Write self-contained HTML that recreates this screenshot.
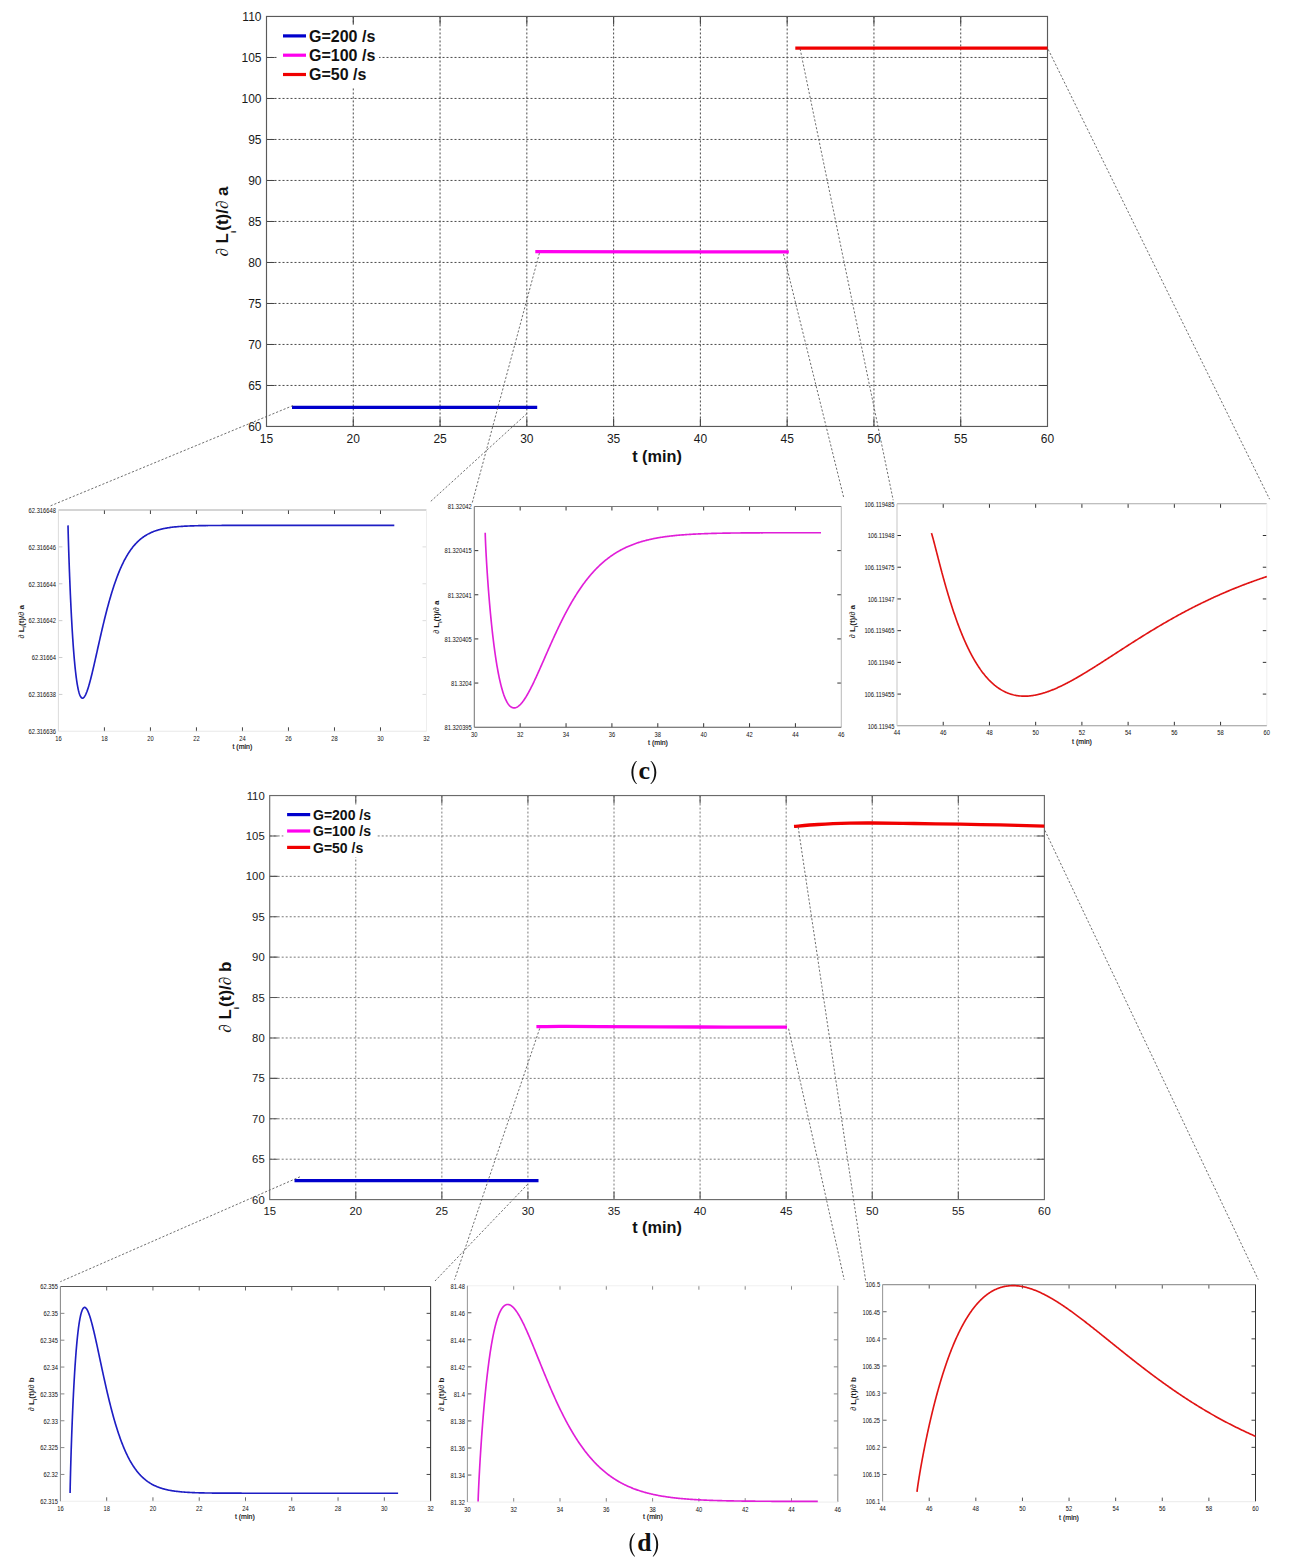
<!DOCTYPE html>
<html><head><meta charset="utf-8"><title>Figure</title>
<style>
html,body{margin:0;padding:0;background:#fff;}
body{width:1294px;height:1564px;overflow:hidden;}
svg{display:block;font-family:"Liberation Sans", sans-serif;}
</style></head>
<body>
<svg width="1294" height="1564" viewBox="0 0 1294 1564">
<rect width="1294" height="1564" fill="#fff"/>
<path d="M353.28,16.45 V426.45 M440.06,16.45 V426.45 M526.83,16.45 V426.45 M613.61,16.45 V426.45 M700.39,16.45 V426.45 M787.17,16.45 V426.45 M873.94,16.45 V426.45 M960.72,16.45 V426.45 M266.5,57.45 H1047.5 M266.5,98.45 H1047.5 M266.5,139.45 H1047.5 M266.5,180.45 H1047.5 M266.5,221.45 H1047.5 M266.5,262.45 H1047.5 M266.5,303.45 H1047.5 M266.5,344.45 H1047.5 M266.5,385.45 H1047.5" stroke="#4a4a4a" stroke-width="1" stroke-dasharray="2 2" fill="none"/>
<rect x="278" y="24.5" width="101" height="62.5" fill="#fff"/>
<path d="M353.28,426.45 v-8 M353.28,16.45 v8 M440.06,426.45 v-8 M440.06,16.45 v8 M526.83,426.45 v-8 M526.83,16.45 v8 M613.61,426.45 v-8 M613.61,16.45 v8 M700.39,426.45 v-8 M700.39,16.45 v8 M787.17,426.45 v-8 M787.17,16.45 v8 M873.94,426.45 v-8 M873.94,16.45 v8 M960.72,426.45 v-8 M960.72,16.45 v8 M266.5,57.45 h8 M1047.5,57.45 h-8 M266.5,98.45 h8 M1047.5,98.45 h-8 M266.5,139.45 h8 M1047.5,139.45 h-8 M266.5,180.45 h8 M1047.5,180.45 h-8 M266.5,221.45 h8 M1047.5,221.45 h-8 M266.5,262.45 h8 M1047.5,262.45 h-8 M266.5,303.45 h8 M1047.5,303.45 h-8 M266.5,344.45 h8 M1047.5,344.45 h-8 M266.5,385.45 h8 M1047.5,385.45 h-8" stroke="#444" stroke-width="1.1" fill="none"/>
<rect x="266.5" y="16.45" width="781" height="410" fill="none" stroke="#5a5a5a" stroke-width="1.15"/>
<text x="261.5" y="20.77" font-size="12" text-anchor="end" fill="#1a1a1a">110</text>
<text x="261.5" y="61.77" font-size="12" text-anchor="end" fill="#1a1a1a">105</text>
<text x="261.5" y="102.77" font-size="12" text-anchor="end" fill="#1a1a1a">100</text>
<text x="261.5" y="143.77" font-size="12" text-anchor="end" fill="#1a1a1a">95</text>
<text x="261.5" y="184.77" font-size="12" text-anchor="end" fill="#1a1a1a">90</text>
<text x="261.5" y="225.77" font-size="12" text-anchor="end" fill="#1a1a1a">85</text>
<text x="261.5" y="266.77" font-size="12" text-anchor="end" fill="#1a1a1a">80</text>
<text x="261.5" y="307.77" font-size="12" text-anchor="end" fill="#1a1a1a">75</text>
<text x="261.5" y="348.77" font-size="12" text-anchor="end" fill="#1a1a1a">70</text>
<text x="261.5" y="389.77" font-size="12" text-anchor="end" fill="#1a1a1a">65</text>
<text x="261.5" y="430.77" font-size="12" text-anchor="end" fill="#1a1a1a">60</text>
<text x="266.5" y="443.05" font-size="12" text-anchor="middle" fill="#1a1a1a">15</text>
<text x="353.28" y="443.05" font-size="12" text-anchor="middle" fill="#1a1a1a">20</text>
<text x="440.06" y="443.05" font-size="12" text-anchor="middle" fill="#1a1a1a">25</text>
<text x="526.83" y="443.05" font-size="12" text-anchor="middle" fill="#1a1a1a">30</text>
<text x="613.61" y="443.05" font-size="12" text-anchor="middle" fill="#1a1a1a">35</text>
<text x="700.39" y="443.05" font-size="12" text-anchor="middle" fill="#1a1a1a">40</text>
<text x="787.17" y="443.05" font-size="12" text-anchor="middle" fill="#1a1a1a">45</text>
<text x="873.94" y="443.05" font-size="12" text-anchor="middle" fill="#1a1a1a">50</text>
<text x="960.72" y="443.05" font-size="12" text-anchor="middle" fill="#1a1a1a">55</text>
<text x="1047.5" y="443.05" font-size="12" text-anchor="middle" fill="#1a1a1a">60</text>
<text x="657" y="461.5" font-size="16.3" font-weight="bold" text-anchor="middle" fill="#111">t (min)</text>
<text transform="translate(228.2,221.5) rotate(-90)" font-size="17" font-weight="bold" text-anchor="middle" fill="#111"><tspan font-weight="normal" font-style="italic" font-family="Liberation Serif, serif">&#8706;</tspan> L<tspan font-size="8" dy="7.5">i</tspan><tspan dy="-7.5">(t)/</tspan><tspan font-weight="normal" font-style="italic" font-family="Liberation Serif, serif">&#8706;</tspan> a</text>
<line x1="283" y1="35.9" x2="306" y2="35.9" stroke="#0000cc" stroke-width="3.2"/>
<text x="309" y="41.7" font-size="16" font-weight="bold" fill="#111">G=200 /s</text>
<line x1="283" y1="55.2" x2="306" y2="55.2" stroke="#ff00ee" stroke-width="3.2"/>
<text x="309" y="61" font-size="16" font-weight="bold" fill="#111">G=100 /s</text>
<line x1="283" y1="74.5" x2="306" y2="74.5" stroke="#f00000" stroke-width="3.2"/>
<text x="309" y="80.3" font-size="16" font-weight="bold" fill="#111">G=50 /s</text>
<path d="M292,407.4 C332.87,407.4 496.33,407.4 537.2,407.4" stroke="#0000cc" stroke-width="3.3" fill="none" stroke-linecap="butt"/>
<path d="M535.3,251.7 C577.55,251.73 746.55,251.87 788.8,251.9" stroke="#ff00ee" stroke-width="3.3" fill="none" stroke-linecap="butt"/>
<path d="M795.3,48.2 C837.33,48.2 1005.47,48.2 1047.5,48.2" stroke="#f00000" stroke-width="3.3" fill="none" stroke-linecap="butt"/>
<path d="M292.9,405.6 L50.6,505.8 M527,413.5 L430.6,501.5 M539.4,253.2 L472.3,502.5 M783.5,254.1 L844,498.7 M800.1,48.8 L893.2,500.2 M1048.2,49.4 L1269.6,499.2" stroke="#555" stroke-width="0.85" stroke-dasharray="2.2 1.8" fill="none"/>
<path d="M104.41,510 v4 M104.41,731.3 v-4" stroke="#444" stroke-width="1" fill="none"/>
<path d="M150.43,510 v4 M150.43,731.3 v-4" stroke="#444" stroke-width="1" fill="none"/>
<path d="M196.44,510 v4 M196.44,731.3 v-4" stroke="#444" stroke-width="1" fill="none"/>
<path d="M242.45,510 v4 M242.45,731.3 v-4" stroke="#444" stroke-width="1" fill="none"/>
<path d="M288.46,510 v4 M288.46,731.3 v-4" stroke="#444" stroke-width="1" fill="none"/>
<path d="M334.48,510 v4 M334.48,731.3 v-4" stroke="#444" stroke-width="1" fill="none"/>
<path d="M380.49,510 v4 M380.49,731.3 v-4" stroke="#444" stroke-width="1" fill="none"/>
<path d="M58.4,546.88 h4" stroke="#ccc" stroke-width="1"/>
<path d="M426.5,546.88 h-4" stroke="#ddd" stroke-width="1"/>
<path d="M58.4,583.77 h4" stroke="#ccc" stroke-width="1"/>
<path d="M426.5,583.77 h-4" stroke="#ddd" stroke-width="1"/>
<path d="M58.4,620.65 h4" stroke="#ccc" stroke-width="1"/>
<path d="M426.5,620.65 h-4" stroke="#ddd" stroke-width="1"/>
<path d="M58.4,657.53 h4" stroke="#ccc" stroke-width="1"/>
<path d="M426.5,657.53 h-4" stroke="#ddd" stroke-width="1"/>
<path d="M58.4,694.42 h4" stroke="#ccc" stroke-width="1"/>
<path d="M426.5,694.42 h-4" stroke="#ddd" stroke-width="1"/>
<line x1="58.4" y1="510" x2="426.5" y2="510" stroke="#aaa" stroke-width="1.05"/>
<line x1="426.5" y1="510" x2="426.5" y2="731.3" stroke="#eee" stroke-width="1.05"/>
<line x1="58.4" y1="731.3" x2="426.5" y2="731.3" stroke="#e8e8e8" stroke-width="1.05"/>
<line x1="58.4" y1="510" x2="58.4" y2="731.3" stroke="#ddd" stroke-width="1.05"/>
<text transform="translate(55.9,512.8) scale(0.89,1)" font-size="6.5" text-anchor="end" fill="#111">62.316648</text>
<text transform="translate(55.9,549.68) scale(0.89,1)" font-size="6.5" text-anchor="end" fill="#111">62.316646</text>
<text transform="translate(55.9,586.57) scale(0.89,1)" font-size="6.5" text-anchor="end" fill="#111">62.316644</text>
<text transform="translate(55.9,623.45) scale(0.89,1)" font-size="6.5" text-anchor="end" fill="#111">62.316642</text>
<text transform="translate(55.9,660.33) scale(0.89,1)" font-size="6.5" text-anchor="end" fill="#111">62.31664</text>
<text transform="translate(55.9,697.22) scale(0.89,1)" font-size="6.5" text-anchor="end" fill="#111">62.316638</text>
<text transform="translate(55.9,734.1) scale(0.89,1)" font-size="6.5" text-anchor="end" fill="#111">62.316636</text>
<text transform="translate(58.4,740.7) scale(0.89,1)" font-size="6.5" text-anchor="middle" fill="#111">16</text>
<text transform="translate(104.41,740.7) scale(0.89,1)" font-size="6.5" text-anchor="middle" fill="#111">18</text>
<text transform="translate(150.43,740.7) scale(0.89,1)" font-size="6.5" text-anchor="middle" fill="#111">20</text>
<text transform="translate(196.44,740.7) scale(0.89,1)" font-size="6.5" text-anchor="middle" fill="#111">22</text>
<text transform="translate(242.45,740.7) scale(0.89,1)" font-size="6.5" text-anchor="middle" fill="#111">24</text>
<text transform="translate(288.46,740.7) scale(0.89,1)" font-size="6.5" text-anchor="middle" fill="#111">26</text>
<text transform="translate(334.48,740.7) scale(0.89,1)" font-size="6.5" text-anchor="middle" fill="#111">28</text>
<text transform="translate(380.49,740.7) scale(0.89,1)" font-size="6.5" text-anchor="middle" fill="#111">30</text>
<text transform="translate(426.5,740.7) scale(0.89,1)" font-size="6.5" text-anchor="middle" fill="#111">32</text>
<text x="242.4" y="749" font-size="7" text-anchor="middle" fill="#111" stroke="#111" stroke-width="0.18">t (min)</text>
<text transform="translate(23.6,621.8) rotate(-90)" font-size="8" font-weight="bold" text-anchor="middle" fill="#1a1a1a"><tspan font-weight="normal" font-style="italic">&#8706;</tspan> L<tspan font-size="5" dy="2.5">i</tspan><tspan dy="-2.5">(t)/</tspan><tspan font-weight="normal" font-style="italic">&#8706;</tspan> a</text>
<path d="M68,525.38 L68.02,526.16 L68.04,527.03 L68.07,528.09 L68.08,528.68 L68.1,529.31 L68.11,529.99 L68.13,530.7 L68.15,531.45 L68.17,532.25 L68.19,533.08 L68.22,533.95 L68.24,534.85 L68.27,535.8 L68.29,536.77 L68.32,537.79 L68.35,538.83 L68.38,539.91 L68.42,541.02 L68.45,542.17 L68.49,543.34 L68.52,544.55 L68.56,545.79 L68.6,547.05 L68.64,548.34 L68.68,549.67 L68.73,551.02 L68.77,552.39 L68.82,553.79 L68.87,555.22 L68.91,556.67 L68.96,558.14 L69.02,559.64 L69.07,561.16 L69.12,562.7 L69.18,564.26 L69.23,565.84 L69.29,567.44 L69.35,569.05 L69.41,570.69 L69.48,572.34 L69.54,574.01 L69.6,575.69 L69.67,577.39 L69.74,579.1 L69.81,580.82 L69.88,582.56 L69.95,584.31 L70.02,586.06 L70.09,587.83 L70.17,589.61 L70.25,591.39 L70.32,593.18 L70.4,594.98 L70.48,596.78 L70.57,598.59 L70.65,600.4 L70.74,602.22 L70.82,604.04 L70.91,605.86 L71,607.68 L71.09,609.5 L71.18,611.32 L71.27,613.13 L71.37,614.95 L71.46,616.76 L71.56,618.57 L71.66,620.37 L71.76,622.17 L71.86,623.96 L71.96,625.75 L72.06,627.52 L72.17,629.29 L72.27,631.05 L72.38,632.8 L72.49,634.54 L72.6,636.26 L72.71,637.98 L72.83,639.68 L72.94,641.37 L73.05,643.04 L73.17,644.7 L73.29,646.34 L73.41,647.97 L73.53,649.58 L73.65,651.17 L73.78,652.74 L73.9,654.3 L74.03,655.83 L74.15,657.35 L74.28,658.84 L74.41,660.31 L74.55,661.76 L74.68,663.19 L74.81,664.6 L74.95,665.98 L75.08,667.34 L75.22,668.67 L75.36,669.98 L75.5,671.26 L75.65,672.52 L75.79,673.75 L75.93,674.96 L76.08,676.13 L76.23,677.28 L76.38,678.4 L76.53,679.5 L76.68,680.56 L76.83,681.6 L76.99,682.6 L77.14,683.58 L77.3,684.52 L77.46,685.44 L77.62,686.33 L77.78,687.18 L77.94,688.01 L78.1,688.8 L78.27,689.56 L78.43,690.29 L78.6,690.99 L78.77,691.65 L78.94,692.29 L79.11,692.89 L79.29,693.46 L79.46,694 L79.64,694.5 L79.81,694.97 L79.99,695.41 L80.35,696.2 L80.72,696.85 L81.09,697.37 L81.47,697.77 L81.85,698.03 L82.43,698.19 L83.03,698.07 L83.43,697.83 L83.84,697.47 L84.25,696.99 L84.67,696.39 L85.1,695.68 L85.31,695.28 L85.53,694.85 L85.74,694.4 L85.96,693.92 L86.18,693.41 L86.4,692.87 L86.62,692.31 L86.85,691.73 L87.07,691.11 L87.3,690.48 L87.53,689.82 L87.76,689.13 L87.99,688.42 L88.22,687.69 L88.45,686.94 L88.69,686.16 L88.92,685.36 L89.16,684.54 L89.4,683.7 L89.64,682.83 L89.88,681.95 L90.12,681.05 L90.36,680.13 L90.61,679.19 L90.86,678.23 L91.1,677.26 L91.35,676.26 L91.6,675.25 L91.86,674.23 L92.11,673.19 L92.36,672.13 L92.62,671.06 L92.88,669.97 L93.13,668.87 L93.39,667.76 L93.66,666.63 L93.92,665.49 L94.18,664.34 L94.45,663.18 L94.71,662.01 L94.98,660.83 L95.25,659.64 L95.52,658.44 L95.79,657.23 L96.07,656.01 L96.34,654.78 L96.62,653.55 L96.89,652.31 L97.17,651.06 L97.45,649.8 L97.73,648.55 L98.01,647.28 L98.3,646.01 L98.58,644.74 L98.87,643.46 L99.16,642.18 L99.45,640.9 L99.74,639.61 L100.03,638.33 L100.32,637.04 L100.62,635.75 L100.91,634.46 L101.21,633.17 L101.51,631.88 L101.81,630.58 L102.11,629.3 L102.41,628.01 L102.72,626.72 L103.02,625.43 L103.33,624.15 L103.64,622.87 L103.95,621.59 L104.26,620.32 L104.57,619.05 L104.88,617.78 L105.2,616.52 L105.51,615.26 L105.83,614.01 L106.15,612.76 L106.47,611.52 L106.79,610.29 L107.11,609.06 L107.43,607.83 L107.76,606.62 L108.09,605.41 L108.41,604.2 L108.74,603.01 L109.07,601.82 L109.41,600.64 L109.74,599.47 L110.07,598.3 L110.41,597.15 L110.75,596 L111.09,594.86 L111.43,593.73 L111.77,592.61 L112.11,591.5 L112.45,590.4 L112.8,589.3 L113.14,588.22 L113.49,587.15 L113.84,586.09 L114.19,585.03 L114.54,583.99 L114.9,582.96 L115.25,581.94 L115.61,580.93 L115.97,579.93 L116.32,578.94 L116.68,577.96 L117.05,576.99 L117.41,576.04 L117.77,575.09 L118.14,574.16 L118.5,573.23 L118.87,572.32 L119.24,571.42 L119.61,570.53 L119.98,569.65 L120.36,568.78 L120.73,567.93 L121.11,567.08 L121.49,566.25 L121.86,565.43 L122.24,564.61 L122.63,563.81 L123.01,563.03 L123.39,562.25 L123.78,561.48 L124.16,560.73 L124.55,559.98 L124.94,559.25 L125.33,558.53 L125.72,557.82 L126.12,557.12 L126.51,556.43 L126.91,555.75 L127.31,555.09 L127.7,554.43 L128.1,553.78 L128.51,553.15 L128.91,552.53 L129.31,551.91 L129.72,551.31 L130.12,550.72 L130.53,550.13 L130.94,549.56 L131.35,549 L131.76,548.45 L132.18,547.9 L132.59,547.37 L133.01,546.85 L133.43,546.33 L133.84,545.83 L134.26,545.34 L134.69,544.85 L135.11,544.38 L135.53,543.91 L135.96,543.45 L136.39,543 L136.81,542.57 L137.24,542.13 L137.67,541.71 L138.11,541.3 L138.54,540.89 L138.97,540.5 L139.41,540.11 L139.85,539.73 L140.29,539.36 L140.73,538.99 L141.17,538.63 L141.61,538.28 L142.05,537.94 L142.5,537.61 L142.95,537.28 L143.39,536.96 L143.84,536.65 L144.3,536.34 L144.75,536.05 L145.2,535.75 L145.66,535.47 L146.11,535.19 L146.57,534.92 L147.03,534.65 L147.49,534.39 L147.95,534.14 L148.41,533.89 L148.88,533.65 L149.34,533.41 L149.81,533.18 L150.28,532.96 L150.75,532.74 L151.22,532.53 L151.69,532.32 L152.16,532.11 L152.64,531.92 L153.11,531.72 L153.59,531.54 L154.07,531.35 L154.55,531.17 L155.03,531 L155.51,530.83 L156,530.67 L156.48,530.5 L156.97,530.35 L157.46,530.2 L157.95,530.05 L158.44,529.9 L158.93,529.76 L159.43,529.63 L159.92,529.49 L160.42,529.36 L160.91,529.24 L161.41,529.12 L161.91,529 L162.41,528.88 L162.92,528.77 L163.42,528.66 L163.93,528.55 L164.43,528.45 L164.94,528.35 L165.45,528.25 L165.96,528.16 L166.47,528.07 L166.99,527.98 L167.5,527.89 L168.54,527.73 L169.58,527.57 L170.62,527.43 L171.67,527.29 L172.73,527.16 L173.79,527.04 L174.85,526.93 L175.92,526.82 L177,526.72 L178.08,526.63 L179.17,526.54 L180.26,526.46 L181.36,526.38 L182.46,526.31 L183.57,526.24 L184.69,526.18 L185.8,526.12 L186.93,526.07 L188.06,526.02 L189.19,525.97 L190.33,525.92 L191.48,525.88 L192.63,525.84 L193.79,525.81 L194.95,525.78 L196.12,525.75 L196.7,525.73 L197.29,525.72 L197.88,525.7 L198.47,525.69 L199.06,525.68 L199.65,525.67 L200.25,525.66 L200.84,525.64 L201.44,525.63 L202.04,525.62 L202.63,525.61 L203.23,525.6 L203.84,525.6 L204.44,525.59 L205.04,525.58 L205.65,525.57 L206.26,525.56 L206.86,525.55 L207.47,525.55 L208.09,525.54 L208.7,525.53 L209.31,525.53 L209.93,525.52 L210.54,525.52 L211.16,525.51 L211.78,525.5 L212.4,525.5 L213.02,525.49 L213.65,525.49 L214.27,525.49 L214.9,525.48 L215.52,525.48 L216.15,525.47 L216.78,525.47 L217.41,525.46 L218.04,525.46 L218.68,525.46 L219.31,525.45 L219.95,525.45 L220.59,525.45 L221.23,525.45 L221.87,525.44 L222.51,525.44 L223.15,525.44 L223.8,525.44 L224.44,525.43 L225.09,525.43 L225.74,525.43 L226.39,525.43 L227.04,525.42 L227.69,525.42 L228.34,525.42 L229,525.42 L229.66,525.42 L230.31,525.42 L230.97,525.41 L231.63,525.41 L232.3,525.41 L232.96,525.41 L233.62,525.41 L234.29,525.41 L234.96,525.41 L235.62,525.41 L236.29,525.41 L236.97,525.4 L237.64,525.4 L238.31,525.4 L238.99,525.4 L239.66,525.4 L240.34,525.4 L241.02,525.4 L241.7,525.4 L242.38,525.4 L243.07,525.4 L243.75,525.4 L244.44,525.4 L245.12,525.4 L245.81,525.39 L246.5,525.39 L247.19,525.39 L247.89,525.39 L248.58,525.39 L249.28,525.39 L249.97,525.39 L250.67,525.39 L251.37,525.39 L252.07,525.39 L252.77,525.39 L253.47,525.39 L254.18,525.39 L254.88,525.39 L255.59,525.39 L256.3,525.39 L257.01,525.39 L257.72,525.39 L258.43,525.39 L259.15,525.39 L259.86,525.39 L260.58,525.39 L261.3,525.39 L262.02,525.39 L262.74,525.39 L263.46,525.39 L264.18,525.39 L264.91,525.39 L265.63,525.39 L266.36,525.39 L267.09,525.39 L267.82,525.39 L268.55,525.39 L269.28,525.39 L270.02,525.39 L270.75,525.39 L271.49,525.39 L272.23,525.39 L272.97,525.39 L273.71,525.39 L274.45,525.39 L275.19,525.39 L275.94,525.39 L276.68,525.39 L277.43,525.39 L278.18,525.39 L278.93,525.39 L279.68,525.39 L280.43,525.39 L281.19,525.39 L281.94,525.39 L282.7,525.39 L283.46,525.39 L284.22,525.39 L284.98,525.39 L285.74,525.39 L286.5,525.39 L287.27,525.39 L288.03,525.39 L288.8,525.38 L289.57,525.38 L290.34,525.38 L291.11,525.38 L291.88,525.38 L292.66,525.38 L293.43,525.38 L294.21,525.38 L294.99,525.38 L295.77,525.38 L296.55,525.38 L297.33,525.38 L298.11,525.38 L298.9,525.38 L299.68,525.38 L300.47,525.38 L301.26,525.38 L302.05,525.38 L302.84,525.38 L303.63,525.38 L304.43,525.38 L305.22,525.38 L306.02,525.38 L306.82,525.38 L307.62,525.38 L308.42,525.38 L309.22,525.38 L310.02,525.38 L310.83,525.38 L311.63,525.38 L312.44,525.38 L313.25,525.38 L314.06,525.38 L314.87,525.38 L315.68,525.38 L316.5,525.38 L317.31,525.38 L318.13,525.38 L318.95,525.38 L319.77,525.38 L320.59,525.38 L321.41,525.38 L322.23,525.38 L323.06,525.38 L323.88,525.38 L324.71,525.38 L325.54,525.38 L326.37,525.38 L327.2,525.38 L328.04,525.38 L328.87,525.38 L329.7,525.38 L330.54,525.38 L331.38,525.38 L332.22,525.38 L333.06,525.38 L333.9,525.38 L334.75,525.38 L335.59,525.38 L336.44,525.38 L337.28,525.38 L338.13,525.38 L338.98,525.38 L339.83,525.38 L340.69,525.38 L341.54,525.38 L342.4,525.38 L343.25,525.38 L344.11,525.38 L344.97,525.38 L345.83,525.38 L346.69,525.38 L347.56,525.38 L348.42,525.38 L349.29,525.38 L350.16,525.38 L351.02,525.38 L351.9,525.38 L352.77,525.38 L353.64,525.38 L354.51,525.38 L355.39,525.38 L356.27,525.38 L357.14,525.38 L358.02,525.38 L358.9,525.38 L359.79,525.38 L360.67,525.38 L361.56,525.38 L362.44,525.38 L363.33,525.38 L364.22,525.38 L365.11,525.38 L366,525.38 L366.89,525.38 L367.79,525.38 L368.68,525.38 L369.58,525.38 L370.48,525.38 L371.38,525.38 L372.28,525.38 L373.18,525.38 L374.08,525.38 L374.99,525.38 L375.89,525.38 L376.8,525.38 L377.71,525.38 L378.62,525.38 L379.53,525.38 L380.45,525.38 L381.36,525.38 L382.28,525.38 L383.19,525.38 L384.11,525.38 L385.03,525.38 L385.95,525.38 L386.87,525.38 L387.8,525.38 L388.72,525.38 L389.65,525.38 L390.58,525.38 L391.51,525.38 L392.44,525.38 L393.37,525.38 L394.3,525.38" stroke="#1e1ec4" stroke-width="1.65" fill="none" stroke-linejoin="round"/>
<path d="M520.17,506.5 v4 M520.17,727.2 v-4" stroke="#333" stroke-width="1" fill="none"/>
<path d="M566.05,506.5 v4 M566.05,727.2 v-4" stroke="#333" stroke-width="1" fill="none"/>
<path d="M611.92,506.5 v4 M611.92,727.2 v-4" stroke="#333" stroke-width="1" fill="none"/>
<path d="M657.8,506.5 v4 M657.8,727.2 v-4" stroke="#333" stroke-width="1" fill="none"/>
<path d="M703.67,506.5 v4 M703.67,727.2 v-4" stroke="#333" stroke-width="1" fill="none"/>
<path d="M749.55,506.5 v4 M749.55,727.2 v-4" stroke="#333" stroke-width="1" fill="none"/>
<path d="M795.42,506.5 v4 M795.42,727.2 v-4" stroke="#333" stroke-width="1" fill="none"/>
<path d="M474.3,550.64 h4" stroke="#333" stroke-width="1"/>
<path d="M841.3,550.64 h-4" stroke="#333" stroke-width="1"/>
<path d="M474.3,594.78 h4" stroke="#333" stroke-width="1"/>
<path d="M841.3,594.78 h-4" stroke="#333" stroke-width="1"/>
<path d="M474.3,638.92 h4" stroke="#333" stroke-width="1"/>
<path d="M841.3,638.92 h-4" stroke="#333" stroke-width="1"/>
<path d="M474.3,683.06 h4" stroke="#333" stroke-width="1"/>
<path d="M841.3,683.06 h-4" stroke="#333" stroke-width="1"/>
<line x1="474.3" y1="506.5" x2="841.3" y2="506.5" stroke="#777" stroke-width="1.05"/>
<line x1="841.3" y1="506.5" x2="841.3" y2="727.2" stroke="#bbb" stroke-width="1.05"/>
<line x1="474.3" y1="727.2" x2="841.3" y2="727.2" stroke="#555" stroke-width="1.05"/>
<line x1="474.3" y1="506.5" x2="474.3" y2="727.2" stroke="#777" stroke-width="1.05"/>
<text transform="translate(471.8,509.3) scale(0.89,1)" font-size="6.5" text-anchor="end" fill="#111">81.32042</text>
<text transform="translate(471.8,553.44) scale(0.89,1)" font-size="6.5" text-anchor="end" fill="#111">81.320415</text>
<text transform="translate(471.8,597.58) scale(0.89,1)" font-size="6.5" text-anchor="end" fill="#111">81.32041</text>
<text transform="translate(471.8,641.72) scale(0.89,1)" font-size="6.5" text-anchor="end" fill="#111">81.320405</text>
<text transform="translate(471.8,685.86) scale(0.89,1)" font-size="6.5" text-anchor="end" fill="#111">81.3204</text>
<text transform="translate(471.8,730) scale(0.89,1)" font-size="6.5" text-anchor="end" fill="#111">81.320395</text>
<text transform="translate(474.3,736.6) scale(0.89,1)" font-size="6.5" text-anchor="middle" fill="#111">30</text>
<text transform="translate(520.17,736.6) scale(0.89,1)" font-size="6.5" text-anchor="middle" fill="#111">32</text>
<text transform="translate(566.05,736.6) scale(0.89,1)" font-size="6.5" text-anchor="middle" fill="#111">34</text>
<text transform="translate(611.92,736.6) scale(0.89,1)" font-size="6.5" text-anchor="middle" fill="#111">36</text>
<text transform="translate(657.8,736.6) scale(0.89,1)" font-size="6.5" text-anchor="middle" fill="#111">38</text>
<text transform="translate(703.67,736.6) scale(0.89,1)" font-size="6.5" text-anchor="middle" fill="#111">40</text>
<text transform="translate(749.55,736.6) scale(0.89,1)" font-size="6.5" text-anchor="middle" fill="#111">42</text>
<text transform="translate(795.42,736.6) scale(0.89,1)" font-size="6.5" text-anchor="middle" fill="#111">44</text>
<text transform="translate(841.3,736.6) scale(0.89,1)" font-size="6.5" text-anchor="middle" fill="#111">46</text>
<text x="658" y="745" font-size="7" text-anchor="middle" fill="#111" stroke="#111" stroke-width="0.18">t (min)</text>
<text transform="translate(439.2,617.2) rotate(-90)" font-size="8" font-weight="bold" text-anchor="middle" fill="#1a1a1a"><tspan font-weight="normal" font-style="italic">&#8706;</tspan> L<tspan font-size="5" dy="2.5">i</tspan><tspan dy="-2.5">(t)/</tspan><tspan font-weight="normal" font-style="italic">&#8706;</tspan> a</text>
<path d="M485.2,532.69 L485.22,533.51 L485.24,534.29 L485.27,535.16 L485.3,536.12 L485.33,537.18 L485.38,538.32 L485.4,538.92 L485.42,539.55 L485.45,540.19 L485.47,540.85 L485.5,541.53 L485.53,542.23 L485.56,542.95 L485.6,543.68 L485.63,544.43 L485.66,545.2 L485.7,545.99 L485.74,546.79 L485.78,547.61 L485.82,548.44 L485.86,549.29 L485.9,550.15 L485.95,551.03 L485.99,551.92 L486.04,552.83 L486.09,553.75 L486.14,554.68 L486.19,555.63 L486.25,556.59 L486.3,557.56 L486.36,558.54 L486.41,559.54 L486.47,560.55 L486.53,561.57 L486.59,562.6 L486.65,563.64 L486.72,564.69 L486.78,565.76 L486.85,566.83 L486.92,567.91 L486.99,569.01 L487.06,570.11 L487.13,571.22 L487.2,572.34 L487.28,573.47 L487.36,574.61 L487.43,575.76 L487.51,576.91 L487.59,578.08 L487.67,579.25 L487.76,580.42 L487.84,581.61 L487.93,582.8 L488.02,583.99 L488.1,585.2 L488.19,586.41 L488.29,587.62 L488.38,588.84 L488.47,590.07 L488.57,591.3 L488.66,592.53 L488.76,593.77 L488.86,595.02 L488.96,596.27 L489.07,597.52 L489.17,598.77 L489.27,600.03 L489.38,601.29 L489.49,602.56 L489.6,603.82 L489.71,605.09 L489.82,606.36 L489.93,607.63 L490.05,608.91 L490.17,610.18 L490.28,611.46 L490.4,612.73 L490.52,614.01 L490.64,615.29 L490.77,616.56 L490.89,617.84 L491.02,619.12 L491.14,620.39 L491.27,621.66 L491.4,622.94 L491.53,624.21 L491.67,625.48 L491.8,626.74 L491.94,628.01 L492.07,629.27 L492.21,630.53 L492.35,631.79 L492.49,633.04 L492.63,634.29 L492.78,635.53 L492.92,636.78 L493.07,638.01 L493.22,639.25 L493.37,640.47 L493.52,641.7 L493.67,642.91 L493.82,644.13 L493.98,645.33 L494.13,646.53 L494.29,647.73 L494.45,648.92 L494.61,650.1 L494.77,651.27 L494.93,652.44 L495.1,653.6 L495.26,654.75 L495.43,655.9 L495.6,657.04 L495.77,658.17 L495.94,659.29 L496.11,660.4 L496.28,661.5 L496.46,662.6 L496.64,663.68 L496.81,664.76 L496.99,665.82 L497.17,666.88 L497.36,667.93 L497.54,668.96 L497.73,669.99 L497.91,671.01 L498.1,672.01 L498.29,673 L498.48,673.99 L498.67,674.96 L498.86,675.92 L499.06,676.87 L499.25,677.8 L499.45,678.73 L499.65,679.64 L499.85,680.54 L500.05,681.43 L500.25,682.3 L500.46,683.17 L500.66,684.02 L500.87,684.85 L501.08,685.67 L501.29,686.48 L501.5,687.28 L501.71,688.06 L501.93,688.83 L502.14,689.59 L502.36,690.33 L502.57,691.06 L502.79,691.77 L503.01,692.47 L503.24,693.15 L503.46,693.82 L503.68,694.48 L503.91,695.12 L504.14,695.74 L504.37,696.35 L504.6,696.95 L504.83,697.53 L505.06,698.09 L505.3,698.64 L505.53,699.18 L505.77,699.7 L506.01,700.2 L506.25,700.69 L506.49,701.16 L506.73,701.61 L506.98,702.06 L507.22,702.48 L507.47,702.89 L507.72,703.28 L507.97,703.66 L508.22,704.02 L508.72,704.69 L509.23,705.31 L509.75,705.85 L510.27,706.33 L510.8,706.75 L511.33,707.1 L511.87,707.39 L512.42,707.61 L512.97,707.77 L513.52,707.87 L514.36,707.89 L514.93,707.83 L515.51,707.7 L516.09,707.52 L516.67,707.27 L517.27,706.96 L517.86,706.59 L518.46,706.16 L519.07,705.67 L519.68,705.12 L519.99,704.83 L520.3,704.52 L520.61,704.2 L520.93,703.86 L521.24,703.51 L521.56,703.14 L521.87,702.77 L522.19,702.37 L522.51,701.97 L522.83,701.55 L523.15,701.12 L523.48,700.67 L523.8,700.22 L524.13,699.75 L524.46,699.26 L524.79,698.77 L525.12,698.26 L525.45,697.74 L525.78,697.21 L526.12,696.67 L526.45,696.11 L526.79,695.54 L527.13,694.97 L527.47,694.38 L527.81,693.78 L528.15,693.17 L528.5,692.54 L528.84,691.91 L529.19,691.27 L529.54,690.61 L529.89,689.95 L530.24,689.28 L530.59,688.59 L530.95,687.9 L531.3,687.2 L531.66,686.49 L532.02,685.77 L532.38,685.04 L532.74,684.3 L533.1,683.55 L533.46,682.8 L533.83,682.03 L534.19,681.26 L534.56,680.48 L534.93,679.69 L535.3,678.9 L535.67,678.1 L536.05,677.29 L536.42,676.47 L536.8,675.65 L537.17,674.82 L537.55,673.98 L537.93,673.14 L538.31,672.29 L538.7,671.44 L539.08,670.58 L539.47,669.72 L539.85,668.85 L540.24,667.97 L540.63,667.09 L541.02,666.2 L541.42,665.31 L541.81,664.42 L542.2,663.52 L542.6,662.62 L543,661.71 L543.4,660.8 L543.8,659.89 L544.2,658.97 L544.6,658.05 L545.01,657.12 L545.42,656.2 L545.82,655.27 L546.23,654.34 L546.64,653.4 L547.05,652.46 L547.47,651.53 L547.88,650.59 L548.3,649.64 L548.71,648.7 L549.13,647.76 L549.55,646.81 L549.97,645.86 L550.4,644.92 L550.82,643.97 L551.25,643.02 L551.67,642.07 L552.1,641.12 L552.53,640.17 L552.96,639.22 L553.39,638.27 L553.83,637.32 L554.26,636.37 L554.7,635.42 L555.14,634.47 L555.58,633.53 L556.02,632.58 L556.46,631.64 L556.9,630.69 L557.35,629.75 L557.79,628.81 L558.24,627.88 L558.69,626.94 L559.14,626 L559.59,625.07 L560.04,624.14 L560.5,623.22 L560.95,622.29 L561.41,621.37 L561.87,620.45 L562.33,619.53 L562.79,618.62 L563.25,617.71 L563.72,616.8 L564.18,615.89 L564.65,614.99 L565.12,614.1 L565.59,613.2 L566.06,612.31 L566.53,611.42 L567,610.54 L567.48,609.66 L567.95,608.79 L568.43,607.92 L568.91,607.05 L569.39,606.19 L569.87,605.33 L570.36,604.48 L570.84,603.63 L571.33,602.79 L571.81,601.95 L572.3,601.11 L572.79,600.28 L573.28,599.46 L573.78,598.64 L574.27,597.82 L574.77,597.01 L575.26,596.21 L575.76,595.41 L576.26,594.62 L576.76,593.83 L577.26,593.05 L577.77,592.27 L578.27,591.5 L578.78,590.73 L579.29,589.97 L579.8,589.21 L580.31,588.46 L580.82,587.72 L581.33,586.98 L581.85,586.25 L582.36,585.52 L582.88,584.8 L583.4,584.08 L583.92,583.38 L584.44,582.67 L584.96,581.97 L585.49,581.28 L586.01,580.6 L586.54,579.92 L587.07,579.25 L587.6,578.58 L588.13,577.92 L588.66,577.26 L589.2,576.61 L589.73,575.97 L590.27,575.33 L590.81,574.7 L591.35,574.08 L591.89,573.46 L592.43,572.85 L592.97,572.24 L593.52,571.64 L594.07,571.05 L594.61,570.46 L595.16,569.88 L595.71,569.3 L596.27,568.73 L596.82,568.17 L597.37,567.61 L597.93,567.06 L598.49,566.52 L599.05,565.98 L599.61,565.45 L600.17,564.92 L600.73,564.4 L601.29,563.88 L601.86,563.38 L602.43,562.87 L603,562.38 L603.56,561.89 L604.14,561.4 L604.71,560.92 L605.28,560.45 L605.86,559.98 L606.43,559.52 L607.01,559.06 L607.59,558.61 L608.17,558.17 L608.75,557.73 L609.34,557.29 L609.92,556.87 L610.51,556.45 L611.1,556.03 L611.69,555.62 L612.28,555.21 L612.87,554.81 L613.46,554.42 L614.06,554.03 L614.65,553.64 L615.25,553.27 L615.85,552.89 L616.45,552.52 L617.05,552.16 L617.65,551.8 L618.26,551.45 L618.86,551.1 L619.47,550.76 L620.08,550.42 L620.69,550.09 L621.3,549.76 L621.91,549.44 L622.52,549.12 L623.14,548.81 L623.75,548.5 L624.37,548.2 L624.99,547.9 L625.61,547.6 L626.23,547.31 L626.86,547.03 L627.48,546.75 L628.11,546.47 L628.74,546.2 L629.36,545.93 L629.99,545.67 L630.63,545.41 L631.26,545.15 L631.89,544.9 L632.53,544.65 L633.17,544.41 L633.8,544.17 L634.44,543.94 L635.09,543.71 L635.73,543.48 L636.37,543.26 L637.02,543.04 L637.66,542.82 L638.31,542.61 L638.96,542.4 L639.61,542.2 L640.26,541.99 L640.92,541.8 L641.57,541.6 L642.23,541.41 L642.89,541.23 L643.55,541.04 L644.21,540.86 L644.87,540.68 L645.53,540.51 L646.2,540.34 L646.86,540.17 L647.53,540.01 L648.2,539.85 L648.87,539.69 L649.54,539.53 L650.21,539.38 L650.89,539.23 L651.56,539.08 L652.24,538.94 L652.92,538.8 L653.6,538.66 L654.28,538.52 L654.96,538.39 L655.65,538.26 L656.33,538.13 L657.02,538 L657.71,537.88 L658.39,537.76 L659.09,537.64 L659.78,537.53 L660.47,537.41 L661.17,537.3 L661.86,537.19 L662.56,537.09 L663.26,536.98 L663.96,536.88 L664.66,536.78 L665.36,536.68 L666.07,536.58 L666.77,536.49 L667.48,536.4 L668.19,536.31 L668.9,536.22 L669.61,536.13 L670.32,536.05 L671.04,535.97 L671.75,535.88 L672.47,535.81 L673.19,535.73 L673.91,535.65 L674.63,535.58 L675.35,535.5 L676.07,535.43 L676.8,535.36 L677.53,535.3 L678.25,535.23 L678.98,535.17 L679.71,535.1 L680.45,535.04 L681.18,534.98 L681.91,534.92 L682.65,534.86 L683.39,534.81 L684.13,534.75 L684.87,534.7 L685.61,534.64 L686.35,534.59 L687.09,534.54 L687.84,534.49 L688.59,534.45 L689.34,534.4 L690.09,534.35 L690.84,534.31 L691.59,534.27 L692.34,534.22 L693.1,534.18 L693.86,534.14 L694.61,534.1 L695.37,534.06 L696.13,534.03 L696.9,533.99 L697.66,533.95 L698.42,533.92 L699.19,533.88 L699.96,533.85 L700.73,533.82 L701.5,533.79 L702.27,533.76 L703.04,533.73 L703.82,533.7 L704.59,533.67 L705.37,533.64 L706.15,533.61 L706.93,533.59 L707.71,533.56 L708.49,533.54 L709.28,533.51 L710.06,533.49 L710.85,533.47 L711.64,533.44 L712.43,533.42 L713.22,533.4 L714.01,533.38 L714.81,533.36 L715.6,533.34 L716.4,533.32 L717.19,533.3 L717.99,533.28 L718.79,533.27 L719.6,533.25 L720.4,533.23 L721.21,533.22 L722.01,533.2 L722.82,533.19 L723.63,533.17 L724.44,533.16 L725.25,533.14 L726.06,533.13 L726.88,533.11 L727.69,533.1 L728.51,533.09 L729.33,533.08 L730.15,533.06 L730.97,533.05 L731.79,533.04 L732.62,533.03 L733.44,533.02 L734.27,533.01 L735.1,533 L735.93,532.99 L736.76,532.98 L737.59,532.97 L738.42,532.96 L739.26,532.95 L740.09,532.95 L740.93,532.94 L741.77,532.93 L742.61,532.92 L743.45,532.91 L744.3,532.91 L745.14,532.9 L745.99,532.89 L746.84,532.89 L747.68,532.88 L748.53,532.87 L749.39,532.87 L750.24,532.86 L751.09,532.86 L751.95,532.85 L752.81,532.85 L753.66,532.84 L754.52,532.84 L755.39,532.83 L756.25,532.83 L757.11,532.82 L757.98,532.82 L758.84,532.81 L759.71,532.81 L760.58,532.8 L761.45,532.8 L762.32,532.8 L763.2,532.79 L764.07,532.79 L764.95,532.79 L765.83,532.78 L766.71,532.78 L767.59,532.78 L768.47,532.77 L769.35,532.77 L770.23,532.77 L771.12,532.77 L772.01,532.76 L772.9,532.76 L773.79,532.76 L774.68,532.75 L775.57,532.75 L776.47,532.75 L777.36,532.75 L778.26,532.75 L779.16,532.74 L780.06,532.74 L780.96,532.74 L781.86,532.74 L782.76,532.74 L783.67,532.74 L784.57,532.73 L785.48,532.73 L786.39,532.73 L787.3,532.73 L788.21,532.73 L789.13,532.73 L790.04,532.72 L790.96,532.72 L791.88,532.72 L792.79,532.72 L793.71,532.72 L794.64,532.72 L795.56,532.72 L796.48,532.72 L797.41,532.72 L798.34,532.71 L799.27,532.71 L800.2,532.71 L801.13,532.71 L802.06,532.71 L802.99,532.71 L803.93,532.71 L804.87,532.71 L805.8,532.71 L806.74,532.71 L807.68,532.71 L808.63,532.71 L809.57,532.71 L810.51,532.7 L811.46,532.7 L812.41,532.7 L813.36,532.7 L814.31,532.7 L815.26,532.7 L816.21,532.7 L817.17,532.7 L818.12,532.7 L819.08,532.7 L820.04,532.7 L821,532.7" stroke="#e01ed8" stroke-width="1.65" fill="none" stroke-linejoin="round"/>
<path d="M943.23,503.8 v4 M943.23,725.8 v-4" stroke="#333" stroke-width="1" fill="none"/>
<path d="M989.45,503.8 v4 M989.45,725.8 v-4" stroke="#333" stroke-width="1" fill="none"/>
<path d="M1035.67,503.8 v4 M1035.67,725.8 v-4" stroke="#333" stroke-width="1" fill="none"/>
<path d="M1081.9,503.8 v4 M1081.9,725.8 v-4" stroke="#333" stroke-width="1" fill="none"/>
<path d="M1128.12,503.8 v4 M1128.12,725.8 v-4" stroke="#333" stroke-width="1" fill="none"/>
<path d="M1174.35,503.8 v4 M1174.35,725.8 v-4" stroke="#333" stroke-width="1" fill="none"/>
<path d="M1220.57,503.8 v4 M1220.57,725.8 v-4" stroke="#333" stroke-width="1" fill="none"/>
<path d="M897,535.51 h4" stroke="#333" stroke-width="1"/>
<path d="M1266.8,535.51 h-4" stroke="#333" stroke-width="1"/>
<path d="M897,567.23 h4" stroke="#333" stroke-width="1"/>
<path d="M1266.8,567.23 h-4" stroke="#333" stroke-width="1"/>
<path d="M897,598.94 h4" stroke="#333" stroke-width="1"/>
<path d="M1266.8,598.94 h-4" stroke="#333" stroke-width="1"/>
<path d="M897,630.66 h4" stroke="#333" stroke-width="1"/>
<path d="M1266.8,630.66 h-4" stroke="#333" stroke-width="1"/>
<path d="M897,662.37 h4" stroke="#333" stroke-width="1"/>
<path d="M1266.8,662.37 h-4" stroke="#333" stroke-width="1"/>
<path d="M897,694.09 h4" stroke="#333" stroke-width="1"/>
<path d="M1266.8,694.09 h-4" stroke="#333" stroke-width="1"/>
<line x1="897" y1="503.8" x2="1266.8" y2="503.8" stroke="#aaa" stroke-width="1.05"/>
<line x1="1266.8" y1="503.8" x2="1266.8" y2="725.8" stroke="#f0f0f0" stroke-width="1.05"/>
<line x1="897" y1="725.8" x2="1266.8" y2="725.8" stroke="#999" stroke-width="1.05"/>
<line x1="897" y1="503.8" x2="897" y2="725.8" stroke="#c8c8c8" stroke-width="1.05"/>
<text transform="translate(894.5,506.6) scale(0.89,1)" font-size="6.5" text-anchor="end" fill="#111">106.119485</text>
<text transform="translate(894.5,538.31) scale(0.89,1)" font-size="6.5" text-anchor="end" fill="#111">106.11948</text>
<text transform="translate(894.5,570.03) scale(0.89,1)" font-size="6.5" text-anchor="end" fill="#111">106.119475</text>
<text transform="translate(894.5,601.74) scale(0.89,1)" font-size="6.5" text-anchor="end" fill="#111">106.11947</text>
<text transform="translate(894.5,633.46) scale(0.89,1)" font-size="6.5" text-anchor="end" fill="#111">106.119465</text>
<text transform="translate(894.5,665.17) scale(0.89,1)" font-size="6.5" text-anchor="end" fill="#111">106.11946</text>
<text transform="translate(894.5,696.89) scale(0.89,1)" font-size="6.5" text-anchor="end" fill="#111">106.119455</text>
<text transform="translate(894.5,728.6) scale(0.89,1)" font-size="6.5" text-anchor="end" fill="#111">106.11945</text>
<text transform="translate(897,735.2) scale(0.89,1)" font-size="6.5" text-anchor="middle" fill="#111">44</text>
<text transform="translate(943.23,735.2) scale(0.89,1)" font-size="6.5" text-anchor="middle" fill="#111">46</text>
<text transform="translate(989.45,735.2) scale(0.89,1)" font-size="6.5" text-anchor="middle" fill="#111">48</text>
<text transform="translate(1035.67,735.2) scale(0.89,1)" font-size="6.5" text-anchor="middle" fill="#111">50</text>
<text transform="translate(1081.9,735.2) scale(0.89,1)" font-size="6.5" text-anchor="middle" fill="#111">52</text>
<text transform="translate(1128.12,735.2) scale(0.89,1)" font-size="6.5" text-anchor="middle" fill="#111">54</text>
<text transform="translate(1174.35,735.2) scale(0.89,1)" font-size="6.5" text-anchor="middle" fill="#111">56</text>
<text transform="translate(1220.57,735.2) scale(0.89,1)" font-size="6.5" text-anchor="middle" fill="#111">58</text>
<text transform="translate(1266.8,735.2) scale(0.89,1)" font-size="6.5" text-anchor="middle" fill="#111">60</text>
<text x="1082" y="743.5" font-size="7" text-anchor="middle" fill="#111" stroke="#111" stroke-width="0.18">t (min)</text>
<text transform="translate(855.2,621.6) rotate(-90)" font-size="8" font-weight="bold" text-anchor="middle" fill="#1a1a1a"><tspan font-weight="normal" font-style="italic">&#8706;</tspan> L<tspan font-size="5" dy="2.5">i</tspan><tspan dy="-2.5">(t)/</tspan><tspan font-weight="normal" font-style="italic">&#8706;</tspan> a</text>
<path d="M931.4,533.11 L931.58,533.58 L931.73,534.05 L931.9,534.57 L932.06,535.09 L932.24,535.7 L932.39,536.21 L932.55,536.78 L932.73,537.4 L932.92,538.08 L933.05,538.56 L933.19,539.06 L933.33,539.59 L933.48,540.14 L933.63,540.71 L933.79,541.31 L933.95,541.93 L934.12,542.58 L934.3,543.25 L934.48,543.94 L934.67,544.66 L934.86,545.4 L935.06,546.16 L935.26,546.95 L935.47,547.76 L935.68,548.59 L935.9,549.45 L936.13,550.33 L936.36,551.22 L936.6,552.14 L936.84,553.09 L936.96,553.57 L937.08,554.05 L937.21,554.54 L937.34,555.03 L937.47,555.53 L937.6,556.04 L937.73,556.55 L937.86,557.06 L937.99,557.58 L938.13,558.11 L938.26,558.64 L938.4,559.17 L938.54,559.71 L938.68,560.25 L938.82,560.8 L938.97,561.35 L939.11,561.91 L939.26,562.47 L939.41,563.04 L939.56,563.61 L939.71,564.19 L939.86,564.77 L940.01,565.35 L940.17,565.94 L940.32,566.53 L940.48,567.13 L940.64,567.73 L940.8,568.34 L940.96,568.94 L941.12,569.56 L941.28,570.17 L941.45,570.79 L941.62,571.42 L941.79,572.05 L941.95,572.68 L942.13,573.31 L942.3,573.95 L942.47,574.59 L942.65,575.24 L942.82,575.89 L943,576.54 L943.18,577.19 L943.36,577.85 L943.54,578.51 L943.73,579.18 L943.91,579.84 L944.1,580.52 L944.28,581.19 L944.47,581.86 L944.66,582.54 L944.85,583.22 L945.05,583.91 L945.24,584.59 L945.44,585.28 L945.63,585.97 L945.83,586.67 L946.03,587.36 L946.23,588.06 L946.44,588.76 L946.64,589.47 L946.85,590.17 L947.05,590.88 L947.26,591.58 L947.47,592.29 L947.68,593.01 L947.89,593.72 L948.11,594.44 L948.32,595.15 L948.54,595.87 L948.75,596.59 L948.97,597.31 L949.19,598.03 L949.42,598.76 L949.64,599.48 L949.86,600.21 L950.09,600.94 L950.32,601.66 L950.54,602.39 L950.77,603.12 L951.01,603.85 L951.24,604.58 L951.47,605.32 L951.71,606.05 L951.94,606.78 L952.18,607.51 L952.42,608.25 L952.66,608.98 L952.91,609.72 L953.15,610.45 L953.39,611.19 L953.64,611.92 L953.89,612.66 L954.14,613.39 L954.39,614.12 L954.64,614.86 L954.89,615.59 L955.15,616.33 L955.4,617.06 L955.66,617.79 L955.92,618.53 L956.18,619.26 L956.44,619.99 L956.71,620.72 L956.97,621.45 L957.24,622.18 L957.5,622.91 L957.77,623.63 L958.04,624.36 L958.31,625.09 L958.58,625.81 L958.86,626.53 L959.13,627.25 L959.41,627.97 L959.69,628.69 L959.97,629.41 L960.25,630.13 L960.53,630.84 L960.81,631.55 L961.1,632.26 L961.38,632.97 L961.67,633.68 L961.96,634.39 L962.25,635.09 L962.54,635.79 L962.84,636.49 L963.13,637.19 L963.43,637.88 L963.72,638.58 L964.02,639.27 L964.32,639.96 L964.62,640.64 L964.93,641.33 L965.23,642.01 L965.54,642.69 L965.84,643.37 L966.15,644.04 L966.46,644.71 L966.77,645.38 L967.08,646.05 L967.4,646.71 L967.71,647.37 L968.03,648.03 L968.35,648.68 L968.67,649.33 L968.99,649.98 L969.31,650.63 L969.63,651.27 L969.96,651.91 L970.28,652.54 L970.61,653.17 L970.94,653.8 L971.27,654.43 L971.6,655.05 L971.93,655.67 L972.27,656.28 L972.6,656.89 L972.94,657.5 L973.28,658.11 L973.62,658.71 L973.96,659.3 L974.3,659.9 L974.65,660.49 L974.99,661.07 L975.34,661.65 L975.69,662.23 L976.04,662.8 L976.39,663.37 L976.74,663.94 L977.09,664.5 L977.45,665.06 L977.8,665.61 L978.16,666.16 L978.52,666.7 L978.88,667.24 L979.24,667.78 L979.61,668.31 L979.97,668.84 L980.34,669.36 L980.7,669.88 L981.07,670.39 L981.44,670.9 L981.81,671.41 L982.19,671.91 L982.56,672.4 L982.94,672.89 L983.31,673.38 L983.69,673.86 L984.07,674.34 L984.45,674.81 L984.83,675.28 L985.22,675.74 L985.6,676.2 L985.99,676.65 L986.38,677.1 L986.77,677.55 L987.16,677.99 L987.55,678.42 L987.94,678.85 L988.34,679.27 L988.73,679.69 L989.13,680.11 L989.53,680.51 L989.93,680.92 L990.33,681.32 L990.73,681.71 L991.14,682.1 L991.54,682.48 L991.95,682.86 L992.36,683.23 L992.77,683.6 L993.18,683.97 L993.59,684.32 L994.01,684.68 L994.42,685.02 L994.84,685.37 L995.26,685.7 L995.68,686.03 L996.1,686.36 L996.52,686.68 L996.94,687 L997.37,687.31 L997.79,687.61 L998.22,687.91 L998.65,688.21 L999.08,688.5 L999.51,688.78 L999.95,689.06 L1000.38,689.33 L1000.82,689.6 L1001.25,689.86 L1001.69,690.12 L1002.13,690.37 L1002.57,690.62 L1003.02,690.86 L1003.46,691.09 L1003.91,691.32 L1004.35,691.55 L1004.8,691.77 L1005.25,691.98 L1005.7,692.19 L1006.15,692.4 L1006.61,692.59 L1007.06,692.79 L1007.52,692.97 L1007.98,693.15 L1008.44,693.33 L1008.9,693.5 L1009.36,693.67 L1009.82,693.83 L1010.29,693.98 L1010.75,694.13 L1011.22,694.28 L1011.69,694.42 L1012.16,694.55 L1013.1,694.8 L1014.05,695.03 L1015.01,695.24 L1015.97,695.43 L1016.94,695.59 L1017.91,695.74 L1018.89,695.86 L1019.87,695.97 L1020.86,696.05 L1021.85,696.11 L1022.85,696.15 L1023.86,696.18 L1024.87,696.18 L1025.88,696.16 L1026.91,696.12 L1027.93,696.06 L1028.96,695.98 L1030,695.88 L1031.05,695.77 L1032.09,695.63 L1032.62,695.56 L1033.15,695.47 L1033.68,695.39 L1034.21,695.3 L1034.74,695.21 L1035.27,695.11 L1035.81,695 L1036.35,694.9 L1036.88,694.78 L1037.42,694.67 L1037.96,694.54 L1038.5,694.42 L1039.05,694.29 L1039.59,694.15 L1040.14,694.01 L1040.68,693.87 L1041.23,693.72 L1041.78,693.56 L1042.33,693.41 L1042.89,693.25 L1043.44,693.08 L1043.99,692.91 L1044.55,692.73 L1045.11,692.56 L1045.67,692.37 L1046.23,692.19 L1046.79,691.99 L1047.36,691.8 L1047.92,691.6 L1048.49,691.4 L1049.05,691.19 L1049.62,690.98 L1050.19,690.76 L1050.77,690.54 L1051.34,690.32 L1051.91,690.09 L1052.49,689.86 L1053.07,689.63 L1053.65,689.39 L1054.23,689.14 L1054.81,688.9 L1055.39,688.65 L1055.97,688.39 L1056.56,688.14 L1057.15,687.88 L1057.73,687.61 L1058.32,687.34 L1058.92,687.07 L1059.51,686.8 L1060.1,686.52 L1060.7,686.24 L1061.29,685.95 L1061.89,685.66 L1062.49,685.37 L1063.09,685.07 L1063.69,684.78 L1064.3,684.47 L1064.9,684.17 L1065.51,683.86 L1066.12,683.55 L1066.72,683.23 L1067.33,682.92 L1067.95,682.59 L1068.56,682.27 L1069.17,681.94 L1069.79,681.61 L1070.41,681.28 L1071.02,680.94 L1071.64,680.61 L1072.27,680.26 L1072.89,679.92 L1073.51,679.57 L1074.14,679.22 L1074.76,678.87 L1075.39,678.51 L1076.02,678.16 L1076.65,677.8 L1077.28,677.43 L1077.92,677.07 L1078.55,676.7 L1079.19,676.33 L1079.83,675.95 L1080.47,675.58 L1081.11,675.2 L1081.75,674.82 L1082.39,674.44 L1083.04,674.05 L1083.68,673.66 L1084.33,673.27 L1084.98,672.88 L1085.63,672.49 L1086.28,672.09 L1086.93,671.69 L1087.59,671.29 L1088.24,670.89 L1088.9,670.48 L1089.56,670.08 L1090.22,669.67 L1090.88,669.26 L1091.54,668.84 L1092.2,668.43 L1092.87,668.01 L1093.54,667.6 L1094.2,667.18 L1094.87,666.75 L1095.54,666.33 L1096.22,665.91 L1096.89,665.48 L1097.56,665.05 L1098.24,664.62 L1098.92,664.19 L1099.6,663.76 L1100.28,663.32 L1100.96,662.89 L1101.64,662.45 L1102.33,662.01 L1103.01,661.57 L1103.7,661.13 L1104.39,660.68 L1105.08,660.24 L1105.77,659.79 L1106.46,659.35 L1107.16,658.9 L1107.85,658.45 L1108.55,658 L1109.25,657.55 L1109.95,657.1 L1110.65,656.64 L1111.35,656.19 L1112.05,655.73 L1112.76,655.27 L1113.46,654.82 L1114.17,654.36 L1114.88,653.9 L1115.59,653.44 L1116.3,652.98 L1117.02,652.52 L1117.73,652.05 L1118.45,651.59 L1119.16,651.12 L1119.88,650.66 L1120.6,650.19 L1121.32,649.73 L1122.05,649.26 L1122.77,648.79 L1123.5,648.33 L1124.22,647.86 L1124.95,647.39 L1125.68,646.92 L1126.41,646.45 L1127.15,645.98 L1127.88,645.51 L1128.61,645.03 L1129.35,644.56 L1130.09,644.09 L1130.83,643.62 L1131.57,643.15 L1132.31,642.67 L1133.05,642.2 L1133.8,641.73 L1134.55,641.25 L1135.29,640.78 L1136.04,640.3 L1136.79,639.83 L1137.54,639.36 L1138.3,638.88 L1139.05,638.41 L1139.81,637.93 L1140.56,637.46 L1141.32,636.99 L1142.08,636.51 L1142.84,636.04 L1143.61,635.56 L1144.37,635.09 L1145.14,634.62 L1145.9,634.14 L1146.67,633.67 L1147.44,633.19 L1148.21,632.72 L1148.98,632.25 L1149.76,631.78 L1150.53,631.3 L1151.31,630.83 L1152.09,630.36 L1152.87,629.89 L1153.65,629.42 L1154.43,628.95 L1155.21,628.48 L1156,628.01 L1156.78,627.54 L1157.57,627.07 L1158.36,626.6 L1159.15,626.13 L1159.94,625.66 L1160.73,625.2 L1161.53,624.73 L1162.32,624.26 L1163.12,623.8 L1163.92,623.33 L1164.72,622.87 L1165.52,622.41 L1166.32,621.94 L1167.12,621.48 L1167.93,621.02 L1168.74,620.56 L1169.54,620.1 L1170.35,619.64 L1171.16,619.18 L1171.98,618.73 L1172.79,618.27 L1173.6,617.81 L1174.42,617.36 L1175.24,616.9 L1176.06,616.45 L1176.88,616 L1177.7,615.54 L1178.52,615.09 L1179.35,614.64 L1180.17,614.19 L1181,613.75 L1181.83,613.3 L1182.66,612.85 L1183.49,612.41 L1184.32,611.96 L1185.16,611.52 L1185.99,611.08 L1186.83,610.64 L1187.67,610.19 L1188.51,609.76 L1189.35,609.32 L1190.19,608.88 L1191.03,608.44 L1191.88,608.01 L1192.72,607.58 L1193.57,607.14 L1194.42,606.71 L1195.27,606.28 L1196.12,605.85 L1196.98,605.42 L1197.83,605 L1198.69,604.57 L1199.54,604.15 L1200.4,603.72 L1201.26,603.3 L1202.12,602.88 L1202.99,602.46 L1203.85,602.04 L1204.72,601.63 L1205.58,601.21 L1206.45,600.79 L1207.32,600.38 L1208.19,599.97 L1209.07,599.56 L1209.94,599.15 L1210.82,598.74 L1211.69,598.33 L1212.57,597.93 L1213.45,597.53 L1214.33,597.12 L1215.21,596.72 L1216.1,596.32 L1216.98,595.92 L1217.87,595.53 L1218.75,595.13 L1219.64,594.73 L1220.53,594.34 L1221.42,593.95 L1222.32,593.56 L1223.21,593.17 L1224.11,592.78 L1225.01,592.4 L1225.9,592.01 L1226.8,591.63 L1227.71,591.25 L1228.61,590.87 L1229.51,590.49 L1230.42,590.11 L1231.32,589.74 L1232.23,589.36 L1233.14,588.99 L1234.05,588.62 L1234.97,588.25 L1235.88,587.88 L1236.79,587.51 L1237.71,587.15 L1238.63,586.78 L1239.55,586.42 L1240.47,586.06 L1241.39,585.7 L1242.31,585.34 L1243.24,584.99 L1244.16,584.63 L1245.09,584.28 L1246.02,583.93 L1246.95,583.58 L1247.88,583.23 L1248.81,582.88 L1249.75,582.53 L1250.68,582.19 L1251.62,581.85 L1252.56,581.51 L1253.5,581.17 L1254.44,580.83 L1255.38,580.49 L1256.33,580.16 L1257.27,579.82 L1258.22,579.49 L1259.17,579.16 L1260.12,578.83 L1261.07,578.51 L1262.02,578.18 L1262.97,577.86 L1263.93,577.53 L1264.88,577.21 L1265.84,576.89 L1266.8,576.58" stroke="#e01414" stroke-width="1.65" fill="none" stroke-linejoin="round"/>
<path d="M637.05,761 L636.15,761 C629.8,766.06 629.8,778.94 636.15,784 L637.05,784 C632.07,778.94 632.07,766.06 637.05,761 Z" fill="#111"/>
<path d="M650.25,761 L651.15,761 C658.03,766.06 658.03,778.94 651.15,784 L650.25,784 C655.77,778.94 655.77,766.06 650.25,761 Z" fill="#111"/>
<text x="644.3" y="778.6" font-size="26" font-weight="bold" text-anchor="middle" fill="#111" font-family='"Liberation Serif", serif'>c</text>
<path d="M355.78,795.55 V1199.6 M441.86,795.55 V1199.6 M527.93,795.55 V1199.6 M614.01,795.55 V1199.6 M700.09,795.55 V1199.6 M786.17,795.55 V1199.6 M872.24,795.55 V1199.6 M958.32,795.55 V1199.6 M269.7,835.95 H1044.4 M269.7,876.36 H1044.4 M269.7,916.76 H1044.4 M269.7,957.17 H1044.4 M269.7,997.57 H1044.4 M269.7,1037.98 H1044.4 M269.7,1078.38 H1044.4 M269.7,1118.79 H1044.4 M269.7,1159.19 H1044.4" stroke="#7a7a7a" stroke-width="1" stroke-dasharray="2 2" fill="none"/>
<rect x="283.5" y="804.5" width="92.5" height="52.5" fill="#fff"/>
<path d="M355.78,1199.6 v-8 M355.78,795.55 v8 M441.86,1199.6 v-8 M441.86,795.55 v8 M527.93,1199.6 v-8 M527.93,795.55 v8 M614.01,1199.6 v-8 M614.01,795.55 v8 M700.09,1199.6 v-8 M700.09,795.55 v8 M786.17,1199.6 v-8 M786.17,795.55 v8 M872.24,1199.6 v-8 M872.24,795.55 v8 M958.32,1199.6 v-8 M958.32,795.55 v8 M269.7,835.95 h8 M1044.4,835.95 h-8 M269.7,876.36 h8 M1044.4,876.36 h-8 M269.7,916.76 h8 M1044.4,916.76 h-8 M269.7,957.17 h8 M1044.4,957.17 h-8 M269.7,997.57 h8 M1044.4,997.57 h-8 M269.7,1037.98 h8 M1044.4,1037.98 h-8 M269.7,1078.38 h8 M1044.4,1078.38 h-8 M269.7,1118.79 h8 M1044.4,1118.79 h-8 M269.7,1159.19 h8 M1044.4,1159.19 h-8" stroke="#555" stroke-width="1.1" fill="none"/>
<rect x="269.7" y="795.55" width="774.7" height="404.05" fill="none" stroke="#6a6a6a" stroke-width="1.15"/>
<text x="264.7" y="799.62" font-size="11.3" text-anchor="end" fill="#1a1a1a">110</text>
<text x="264.7" y="840.02" font-size="11.3" text-anchor="end" fill="#1a1a1a">105</text>
<text x="264.7" y="880.43" font-size="11.3" text-anchor="end" fill="#1a1a1a">100</text>
<text x="264.7" y="920.83" font-size="11.3" text-anchor="end" fill="#1a1a1a">95</text>
<text x="264.7" y="961.24" font-size="11.3" text-anchor="end" fill="#1a1a1a">90</text>
<text x="264.7" y="1001.64" font-size="11.3" text-anchor="end" fill="#1a1a1a">85</text>
<text x="264.7" y="1042.05" font-size="11.3" text-anchor="end" fill="#1a1a1a">80</text>
<text x="264.7" y="1082.45" font-size="11.3" text-anchor="end" fill="#1a1a1a">75</text>
<text x="264.7" y="1122.86" font-size="11.3" text-anchor="end" fill="#1a1a1a">70</text>
<text x="264.7" y="1163.26" font-size="11.3" text-anchor="end" fill="#1a1a1a">65</text>
<text x="264.7" y="1203.67" font-size="11.3" text-anchor="end" fill="#1a1a1a">60</text>
<text x="269.7" y="1214.9" font-size="11.3" text-anchor="middle" fill="#1a1a1a">15</text>
<text x="355.78" y="1214.9" font-size="11.3" text-anchor="middle" fill="#1a1a1a">20</text>
<text x="441.86" y="1214.9" font-size="11.3" text-anchor="middle" fill="#1a1a1a">25</text>
<text x="527.93" y="1214.9" font-size="11.3" text-anchor="middle" fill="#1a1a1a">30</text>
<text x="614.01" y="1214.9" font-size="11.3" text-anchor="middle" fill="#1a1a1a">35</text>
<text x="700.09" y="1214.9" font-size="11.3" text-anchor="middle" fill="#1a1a1a">40</text>
<text x="786.17" y="1214.9" font-size="11.3" text-anchor="middle" fill="#1a1a1a">45</text>
<text x="872.24" y="1214.9" font-size="11.3" text-anchor="middle" fill="#1a1a1a">50</text>
<text x="958.32" y="1214.9" font-size="11.3" text-anchor="middle" fill="#1a1a1a">55</text>
<text x="1044.4" y="1214.9" font-size="11.3" text-anchor="middle" fill="#1a1a1a">60</text>
<text x="657" y="1233" font-size="16.3" font-weight="bold" text-anchor="middle" fill="#111">t (min)</text>
<text transform="translate(231.3,997.2) rotate(-90)" font-size="17" font-weight="bold" text-anchor="middle" fill="#111"><tspan font-weight="normal" font-style="italic" font-family="Liberation Serif, serif">&#8706;</tspan> L<tspan font-size="8" dy="7.5">i</tspan><tspan dy="-7.5">(t)/</tspan><tspan font-weight="normal" font-style="italic" font-family="Liberation Serif, serif">&#8706;</tspan> b</text>
<line x1="287.1" y1="814.6" x2="310.2" y2="814.6" stroke="#0000cc" stroke-width="3.2"/>
<text x="313" y="819.8" font-size="14" font-weight="bold" fill="#111">G=200 /s</text>
<line x1="287.1" y1="831" x2="310.2" y2="831" stroke="#ff00ee" stroke-width="3.2"/>
<text x="313" y="836.2" font-size="14" font-weight="bold" fill="#111">G=100 /s</text>
<line x1="287.1" y1="847.4" x2="310.2" y2="847.4" stroke="#f00000" stroke-width="3.2"/>
<text x="313" y="852.6" font-size="14" font-weight="bold" fill="#111">G=50 /s</text>
<path d="M294.5,1180.7 C335.17,1180.7 497.83,1180.7 538.5,1180.7" stroke="#0000cc" stroke-width="3.3" fill="none" stroke-linecap="butt"/>
<path d="M536.4,1026.6 C540.33,1026.55 549.4,1026.3 560,1026.3 C570.6,1026.3 576.67,1026.48 600,1026.6 C623.33,1026.72 668.83,1026.92 700,1027 C731.17,1027.08 772.5,1027.08 787,1027.1" stroke="#ff00ee" stroke-width="3.3" fill="none" stroke-linecap="butt"/>
<path d="M794,826.4 C798,826.08 808.67,825.03 818,824.5 C827.33,823.97 841,823.45 850,823.2 C859,822.95 861.33,822.95 872,823 C882.67,823.05 899.33,823.3 914,823.5 C928.67,823.7 945.67,823.97 960,824.2 C974.33,824.43 985.95,824.57 1000,824.9 C1014.05,825.23 1036.92,825.98 1044.3,826.2" stroke="#f00000" stroke-width="3.3" fill="none" stroke-linecap="butt"/>
<path d="M300,1176.8 L60.3,1281.7 M527.7,1184.2 L435,1281 M539.7,1028.5 L454.5,1279.7 M788.6,1028.7 L844.2,1279.8 M798.2,827.2 L866,1283 M1044.9,830.4 L1258.2,1279.5" stroke="#555" stroke-width="0.85" stroke-dasharray="2.2 1.8" fill="none"/>
<path d="M106.68,1286.5 v4 M106.68,1501.3 v-4" stroke="#666" stroke-width="1" fill="none"/>
<path d="M152.95,1286.5 v4 M152.95,1501.3 v-4" stroke="#666" stroke-width="1" fill="none"/>
<path d="M199.23,1286.5 v4 M199.23,1501.3 v-4" stroke="#666" stroke-width="1" fill="none"/>
<path d="M245.5,1286.5 v4 M245.5,1501.3 v-4" stroke="#666" stroke-width="1" fill="none"/>
<path d="M291.78,1286.5 v4 M291.78,1501.3 v-4" stroke="#666" stroke-width="1" fill="none"/>
<path d="M338.05,1286.5 v4 M338.05,1501.3 v-4" stroke="#666" stroke-width="1" fill="none"/>
<path d="M384.33,1286.5 v4 M384.33,1501.3 v-4" stroke="#666" stroke-width="1" fill="none"/>
<path d="M60.4,1313.35 h4" stroke="#888" stroke-width="1"/>
<path d="M430.6,1313.35 h-4" stroke="#444" stroke-width="1"/>
<path d="M60.4,1340.2 h4" stroke="#888" stroke-width="1"/>
<path d="M430.6,1340.2 h-4" stroke="#444" stroke-width="1"/>
<path d="M60.4,1367.05 h4" stroke="#888" stroke-width="1"/>
<path d="M430.6,1367.05 h-4" stroke="#444" stroke-width="1"/>
<path d="M60.4,1393.9 h4" stroke="#888" stroke-width="1"/>
<path d="M430.6,1393.9 h-4" stroke="#444" stroke-width="1"/>
<path d="M60.4,1420.75 h4" stroke="#888" stroke-width="1"/>
<path d="M430.6,1420.75 h-4" stroke="#444" stroke-width="1"/>
<path d="M60.4,1447.6 h4" stroke="#888" stroke-width="1"/>
<path d="M430.6,1447.6 h-4" stroke="#444" stroke-width="1"/>
<path d="M60.4,1474.45 h4" stroke="#888" stroke-width="1"/>
<path d="M430.6,1474.45 h-4" stroke="#444" stroke-width="1"/>
<line x1="60.4" y1="1286.5" x2="430.6" y2="1286.5" stroke="#555" stroke-width="1.05"/>
<line x1="430.6" y1="1286.5" x2="430.6" y2="1501.3" stroke="#333" stroke-width="1.05"/>
<line x1="60.4" y1="1501.3" x2="430.6" y2="1501.3" stroke="#eee" stroke-width="1.05"/>
<line x1="60.4" y1="1286.5" x2="60.4" y2="1501.3" stroke="#888" stroke-width="1.05"/>
<text transform="translate(57.9,1289.3) scale(0.89,1)" font-size="6.5" text-anchor="end" fill="#111">62.355</text>
<text transform="translate(57.9,1316.15) scale(0.89,1)" font-size="6.5" text-anchor="end" fill="#111">62.35</text>
<text transform="translate(57.9,1343) scale(0.89,1)" font-size="6.5" text-anchor="end" fill="#111">62.345</text>
<text transform="translate(57.9,1369.85) scale(0.89,1)" font-size="6.5" text-anchor="end" fill="#111">62.34</text>
<text transform="translate(57.9,1396.7) scale(0.89,1)" font-size="6.5" text-anchor="end" fill="#111">62.335</text>
<text transform="translate(57.9,1423.55) scale(0.89,1)" font-size="6.5" text-anchor="end" fill="#111">62.33</text>
<text transform="translate(57.9,1450.4) scale(0.89,1)" font-size="6.5" text-anchor="end" fill="#111">62.325</text>
<text transform="translate(57.9,1477.25) scale(0.89,1)" font-size="6.5" text-anchor="end" fill="#111">62.32</text>
<text transform="translate(57.9,1504.1) scale(0.89,1)" font-size="6.5" text-anchor="end" fill="#111">62.315</text>
<text transform="translate(60.4,1510.7) scale(0.89,1)" font-size="6.5" text-anchor="middle" fill="#111">16</text>
<text transform="translate(106.68,1510.7) scale(0.89,1)" font-size="6.5" text-anchor="middle" fill="#111">18</text>
<text transform="translate(152.95,1510.7) scale(0.89,1)" font-size="6.5" text-anchor="middle" fill="#111">20</text>
<text transform="translate(199.23,1510.7) scale(0.89,1)" font-size="6.5" text-anchor="middle" fill="#111">22</text>
<text transform="translate(245.5,1510.7) scale(0.89,1)" font-size="6.5" text-anchor="middle" fill="#111">24</text>
<text transform="translate(291.78,1510.7) scale(0.89,1)" font-size="6.5" text-anchor="middle" fill="#111">26</text>
<text transform="translate(338.05,1510.7) scale(0.89,1)" font-size="6.5" text-anchor="middle" fill="#111">28</text>
<text transform="translate(384.33,1510.7) scale(0.89,1)" font-size="6.5" text-anchor="middle" fill="#111">30</text>
<text transform="translate(430.6,1510.7) scale(0.89,1)" font-size="6.5" text-anchor="middle" fill="#111">32</text>
<text x="244.8" y="1519.2" font-size="7" text-anchor="middle" fill="#111" stroke="#111" stroke-width="0.18">t (min)</text>
<text transform="translate(34.2,1394.3) rotate(-90)" font-size="8" font-weight="bold" text-anchor="middle" fill="#1a1a1a"><tspan font-weight="normal" font-style="italic">&#8706;</tspan> L<tspan font-size="5" dy="2.5">i</tspan><tspan dy="-2.5">(t)/</tspan><tspan font-weight="normal" font-style="italic">&#8706;</tspan> b</text>
<path d="M70.1,1492.96 L70.11,1492.11 L70.12,1491.23 L70.14,1490.1 L70.15,1489.46 L70.17,1488.76 L70.18,1488.02 L70.2,1487.23 L70.21,1486.4 L70.23,1485.52 L70.25,1484.6 L70.27,1483.64 L70.29,1482.64 L70.32,1481.6 L70.34,1480.52 L70.37,1479.41 L70.4,1478.26 L70.42,1477.07 L70.46,1475.85 L70.49,1474.6 L70.52,1473.32 L70.55,1472 L70.59,1470.66 L70.63,1469.28 L70.66,1467.88 L70.7,1466.44 L70.75,1464.98 L70.79,1463.5 L70.83,1461.99 L70.88,1460.45 L70.92,1458.89 L70.97,1457.31 L71.02,1455.7 L71.07,1454.07 L71.12,1452.42 L71.17,1450.75 L71.23,1449.07 L71.28,1447.36 L71.34,1445.64 L71.4,1443.89 L71.46,1442.14 L71.52,1440.36 L71.58,1438.58 L71.65,1436.78 L71.71,1434.96 L71.78,1433.14 L71.85,1431.3 L71.92,1429.45 L71.99,1427.59 L72.06,1425.72 L72.13,1423.85 L72.21,1421.97 L72.28,1420.08 L72.36,1418.18 L72.44,1416.28 L72.52,1414.38 L72.6,1412.47 L72.68,1410.56 L72.76,1408.64 L72.85,1406.73 L72.94,1404.82 L73.02,1402.9 L73.11,1400.99 L73.2,1399.08 L73.3,1397.17 L73.39,1395.27 L73.48,1393.37 L73.58,1391.47 L73.68,1389.58 L73.78,1387.7 L73.88,1385.82 L73.98,1383.96 L74.08,1382.1 L74.18,1380.25 L74.29,1378.41 L74.4,1376.58 L74.5,1374.77 L74.61,1372.96 L74.72,1371.17 L74.84,1369.39 L74.95,1367.63 L75.06,1365.88 L75.18,1364.15 L75.3,1362.44 L75.42,1360.74 L75.54,1359.06 L75.66,1357.4 L75.78,1355.75 L75.91,1354.13 L76.03,1352.53 L76.16,1350.94 L76.29,1349.38 L76.42,1347.84 L76.55,1346.32 L76.68,1344.83 L76.81,1343.36 L76.95,1341.91 L77.08,1340.49 L77.22,1339.09 L77.36,1337.72 L77.5,1336.38 L77.64,1335.06 L77.79,1333.77 L77.93,1332.5 L78.08,1331.26 L78.22,1330.05 L78.37,1328.87 L78.52,1327.72 L78.67,1326.6 L78.82,1325.51 L78.98,1324.44 L79.13,1323.41 L79.29,1322.41 L79.45,1321.44 L79.61,1320.5 L79.77,1319.59 L79.93,1318.71 L80.09,1317.86 L80.26,1317.05 L80.42,1316.27 L80.59,1315.52 L80.76,1314.8 L80.93,1314.12 L81.1,1313.47 L81.27,1312.85 L81.45,1312.27 L81.62,1311.72 L81.8,1311.2 L81.97,1310.71 L82.15,1310.26 L82.52,1309.46 L82.88,1308.79 L83.26,1308.25 L83.64,1307.85 L84.02,1307.57 L84.61,1307.41 L85.2,1307.54 L85.61,1307.79 L86.02,1308.16 L86.44,1308.66 L86.86,1309.28 L87.29,1310.02 L87.5,1310.43 L87.72,1310.87 L87.94,1311.34 L88.16,1311.84 L88.38,1312.37 L88.6,1312.93 L88.82,1313.51 L89.05,1314.12 L89.27,1314.75 L89.5,1315.41 L89.73,1316.1 L89.96,1316.81 L90.19,1317.55 L90.42,1318.31 L90.66,1319.1 L90.89,1319.91 L91.13,1320.74 L91.37,1321.6 L91.61,1322.47 L91.85,1323.37 L92.09,1324.29 L92.34,1325.23 L92.58,1326.19 L92.83,1327.18 L93.08,1328.18 L93.32,1329.2 L93.57,1330.23 L93.83,1331.29 L94.08,1332.36 L94.33,1333.45 L94.59,1334.56 L94.85,1335.68 L95.11,1336.82 L95.37,1337.98 L95.63,1339.14 L95.89,1340.32 L96.15,1341.52 L96.42,1342.73 L96.68,1343.95 L96.95,1345.18 L97.22,1346.42 L97.49,1347.68 L97.76,1348.94 L98.04,1350.22 L98.31,1351.5 L98.59,1352.8 L98.86,1354.1 L99.14,1355.41 L99.42,1356.72 L99.7,1358.05 L99.99,1359.38 L100.27,1360.72 L100.56,1362.06 L100.84,1363.41 L101.13,1364.76 L101.42,1366.11 L101.71,1367.47 L102,1368.84 L102.3,1370.2 L102.59,1371.57 L102.89,1372.94 L103.18,1374.31 L103.48,1375.68 L103.78,1377.06 L104.08,1378.43 L104.39,1379.8 L104.69,1381.18 L105,1382.55 L105.3,1383.92 L105.61,1385.29 L105.92,1386.65 L106.23,1388.02 L106.54,1389.38 L106.86,1390.74 L107.17,1392.09 L107.49,1393.44 L107.81,1394.79 L108.13,1396.13 L108.45,1397.47 L108.77,1398.8 L109.09,1400.12 L109.41,1401.44 L109.74,1402.76 L110.07,1404.06 L110.4,1405.37 L110.72,1406.66 L111.06,1407.95 L111.39,1409.23 L111.72,1410.5 L112.06,1411.76 L112.39,1413.01 L112.73,1414.26 L113.07,1415.5 L113.41,1416.73 L113.75,1417.95 L114.09,1419.16 L114.44,1420.36 L114.78,1421.55 L115.13,1422.74 L115.48,1423.91 L115.83,1425.07 L116.18,1426.22 L116.53,1427.36 L116.89,1428.49 L117.24,1429.61 L117.6,1430.72 L117.96,1431.82 L118.32,1432.91 L118.68,1433.98 L119.04,1435.05 L119.4,1436.1 L119.77,1437.14 L120.13,1438.17 L120.5,1439.19 L120.87,1440.2 L121.24,1441.2 L121.61,1442.18 L121.98,1443.15 L122.36,1444.11 L122.73,1445.06 L123.11,1446 L123.48,1446.92 L123.86,1447.84 L124.24,1448.74 L124.63,1449.62 L125.01,1450.5 L125.39,1451.37 L125.78,1452.22 L126.17,1453.06 L126.56,1453.89 L126.95,1454.71 L127.34,1455.51 L127.73,1456.31 L128.12,1457.09 L128.52,1457.86 L128.92,1458.62 L129.32,1459.36 L129.71,1460.1 L130.12,1460.82 L130.52,1461.53 L130.92,1462.23 L131.33,1462.92 L131.73,1463.6 L132.14,1464.27 L132.55,1464.92 L132.96,1465.57 L133.37,1466.2 L133.78,1466.82 L134.2,1467.43 L134.61,1468.03 L135.03,1468.62 L135.45,1469.2 L135.87,1469.77 L136.29,1470.33 L136.71,1470.88 L137.13,1471.42 L137.56,1471.95 L137.98,1472.46 L138.41,1472.97 L138.84,1473.47 L139.27,1473.96 L139.7,1474.44 L140.14,1474.91 L140.57,1475.37 L141.01,1475.82 L141.44,1476.26 L141.88,1476.69 L142.32,1477.12 L142.76,1477.53 L143.21,1477.94 L143.65,1478.34 L144.09,1478.73 L144.54,1479.11 L144.99,1479.48 L145.44,1479.85 L145.89,1480.21 L146.34,1480.55 L146.79,1480.9 L147.25,1481.23 L147.7,1481.56 L148.16,1481.88 L148.62,1482.19 L149.08,1482.49 L149.54,1482.79 L150,1483.08 L150.47,1483.37 L150.93,1483.64 L151.4,1483.91 L151.87,1484.18 L152.33,1484.44 L152.81,1484.69 L153.28,1484.93 L153.75,1485.17 L154.23,1485.41 L154.7,1485.64 L155.18,1485.86 L155.66,1486.08 L156.14,1486.29 L156.62,1486.49 L157.1,1486.69 L157.59,1486.89 L158.07,1487.08 L158.56,1487.27 L159.05,1487.45 L159.53,1487.62 L160.03,1487.79 L160.52,1487.96 L161.01,1488.12 L161.51,1488.28 L162,1488.44 L162.5,1488.59 L163,1488.73 L163.5,1488.87 L164,1489.01 L164.5,1489.14 L165.01,1489.27 L165.51,1489.4 L166.02,1489.52 L166.53,1489.64 L167.04,1489.76 L167.55,1489.87 L168.06,1489.98 L168.57,1490.09 L169.09,1490.19 L169.6,1490.29 L170.12,1490.39 L170.64,1490.48 L171.16,1490.57 L171.68,1490.66 L172.21,1490.75 L172.73,1490.83 L173.26,1490.91 L173.78,1490.99 L174.31,1491.07 L174.84,1491.14 L175.37,1491.22 L175.9,1491.28 L176.44,1491.35 L176.97,1491.42 L178.05,1491.54 L179.13,1491.66 L180.21,1491.77 L181.3,1491.87 L182.4,1491.96 L183.5,1492.05 L184.6,1492.14 L185.72,1492.22 L186.83,1492.29 L187.95,1492.36 L189.08,1492.42 L190.22,1492.48 L191.35,1492.54 L192.5,1492.59 L193.65,1492.63 L194.8,1492.68 L195.38,1492.7 L195.96,1492.72 L196.54,1492.74 L197.13,1492.76 L197.71,1492.78 L198.3,1492.79 L198.89,1492.81 L199.47,1492.83 L200.06,1492.84 L200.66,1492.86 L201.25,1492.87 L201.84,1492.89 L202.44,1492.9 L203.04,1492.91 L203.63,1492.92 L204.23,1492.94 L204.83,1492.95 L205.44,1492.96 L206.04,1492.97 L206.64,1492.98 L207.25,1492.99 L207.86,1493 L208.47,1493.01 L209.08,1493.02 L209.69,1493.03 L210.3,1493.03 L210.92,1493.04 L211.53,1493.05 L212.15,1493.06 L212.77,1493.06 L213.39,1493.07 L214.01,1493.08 L214.63,1493.08 L215.25,1493.09 L215.88,1493.09 L216.5,1493.1 L217.13,1493.1 L217.76,1493.11 L218.39,1493.11 L219.02,1493.12 L219.66,1493.12 L220.29,1493.13 L220.93,1493.13 L221.56,1493.13 L222.2,1493.14 L222.84,1493.14 L223.48,1493.14 L224.12,1493.15 L224.77,1493.15 L225.41,1493.15 L226.06,1493.16 L226.71,1493.16 L227.36,1493.16 L228.01,1493.16 L228.66,1493.17 L229.31,1493.17 L229.97,1493.17 L230.62,1493.17 L231.28,1493.17 L231.94,1493.18 L232.6,1493.18 L233.26,1493.18 L233.92,1493.18 L234.59,1493.18 L235.25,1493.18 L235.92,1493.19 L236.59,1493.19 L237.26,1493.19 L237.93,1493.19 L238.6,1493.19 L239.27,1493.19 L239.95,1493.19 L240.62,1493.19 L241.3,1493.19 L241.98,1493.2 L242.66,1493.2 L243.34,1493.2 L244.02,1493.2 L244.71,1493.2 L245.39,1493.2 L246.08,1493.2 L246.77,1493.2 L247.46,1493.2 L248.15,1493.2 L248.84,1493.2 L249.53,1493.2 L250.23,1493.2 L250.92,1493.2 L251.62,1493.2 L252.32,1493.21 L253.02,1493.21 L253.72,1493.21 L254.42,1493.21 L255.13,1493.21 L255.83,1493.21 L256.54,1493.21 L257.25,1493.21 L257.96,1493.21 L258.67,1493.21 L259.38,1493.21 L260.1,1493.21 L260.81,1493.21 L261.53,1493.21 L262.24,1493.21 L262.96,1493.21 L263.68,1493.21 L264.41,1493.21 L265.13,1493.21 L265.85,1493.21 L266.58,1493.21 L267.31,1493.21 L268.03,1493.21 L268.76,1493.21 L269.49,1493.21 L270.23,1493.21 L270.96,1493.21 L271.7,1493.21 L272.43,1493.21 L273.17,1493.21 L273.91,1493.21 L274.65,1493.21 L275.39,1493.21 L276.13,1493.21 L276.88,1493.21 L277.62,1493.21 L278.37,1493.21 L279.12,1493.21 L279.87,1493.21 L280.62,1493.21 L281.37,1493.21 L282.13,1493.21 L282.88,1493.21 L283.64,1493.21 L284.4,1493.21 L285.16,1493.21 L285.92,1493.21 L286.68,1493.21 L287.44,1493.21 L288.21,1493.21 L288.97,1493.21 L289.74,1493.21 L290.51,1493.21 L291.28,1493.21 L292.05,1493.21 L292.82,1493.21 L293.6,1493.21 L294.37,1493.21 L295.15,1493.21 L295.93,1493.21 L296.71,1493.21 L297.49,1493.21 L298.27,1493.21 L299.05,1493.21 L299.84,1493.21 L300.62,1493.21 L301.41,1493.21 L302.2,1493.21 L302.99,1493.21 L303.78,1493.21 L304.57,1493.21 L305.37,1493.21 L306.16,1493.21 L306.96,1493.21 L307.76,1493.21 L308.56,1493.21 L309.36,1493.21 L310.16,1493.21 L310.96,1493.21 L311.77,1493.21 L312.58,1493.21 L313.38,1493.21 L314.19,1493.21 L315,1493.21 L315.81,1493.21 L316.63,1493.21 L317.44,1493.21 L318.26,1493.21 L319.07,1493.21 L319.89,1493.21 L320.71,1493.21 L321.53,1493.21 L322.36,1493.21 L323.18,1493.21 L324,1493.21 L324.83,1493.21 L325.66,1493.21 L326.49,1493.21 L327.32,1493.21 L328.15,1493.21 L328.98,1493.21 L329.82,1493.21 L330.65,1493.21 L331.49,1493.21 L332.33,1493.21 L333.17,1493.21 L334.01,1493.21 L334.85,1493.21 L335.7,1493.21 L336.54,1493.21 L337.39,1493.21 L338.24,1493.21 L339.08,1493.21 L339.93,1493.21 L340.79,1493.21 L341.64,1493.21 L342.49,1493.21 L343.35,1493.21 L344.21,1493.21 L345.07,1493.21 L345.93,1493.21 L346.79,1493.21 L347.65,1493.21 L348.51,1493.21 L349.38,1493.21 L350.25,1493.21 L351.11,1493.21 L351.98,1493.21 L352.85,1493.21 L353.73,1493.21 L354.6,1493.21 L355.47,1493.21 L356.35,1493.21 L357.23,1493.21 L358.11,1493.21 L358.99,1493.21 L359.87,1493.21 L360.75,1493.21 L361.63,1493.21 L362.52,1493.21 L363.41,1493.21 L364.3,1493.21 L365.18,1493.21 L366.08,1493.21 L366.97,1493.21 L367.86,1493.21 L368.76,1493.21 L369.65,1493.21 L370.55,1493.21 L371.45,1493.21 L372.35,1493.21 L373.25,1493.21 L374.15,1493.21 L375.06,1493.21 L375.96,1493.21 L376.87,1493.21 L377.78,1493.21 L378.69,1493.21 L379.6,1493.21 L380.51,1493.21 L381.42,1493.21 L382.34,1493.21 L383.26,1493.21 L384.17,1493.21 L385.09,1493.21 L386.01,1493.21 L386.93,1493.21 L387.86,1493.21 L388.78,1493.21 L389.71,1493.21 L390.64,1493.21 L391.56,1493.21 L392.49,1493.21 L393.42,1493.21 L394.36,1493.21 L395.29,1493.21 L396.23,1493.21 L397.16,1493.21 L398.1,1493.21" stroke="#1e1ec4" stroke-width="1.65" fill="none" stroke-linejoin="round"/>
<path d="M513.7,1285.7 v4 M513.7,1502.1 v-4" stroke="#888" stroke-width="1" fill="none"/>
<path d="M560,1285.7 v4 M560,1502.1 v-4" stroke="#888" stroke-width="1" fill="none"/>
<path d="M606.3,1285.7 v4 M606.3,1502.1 v-4" stroke="#888" stroke-width="1" fill="none"/>
<path d="M652.6,1285.7 v4 M652.6,1502.1 v-4" stroke="#888" stroke-width="1" fill="none"/>
<path d="M698.9,1285.7 v4 M698.9,1502.1 v-4" stroke="#888" stroke-width="1" fill="none"/>
<path d="M745.2,1285.7 v4 M745.2,1502.1 v-4" stroke="#888" stroke-width="1" fill="none"/>
<path d="M791.5,1285.7 v4 M791.5,1502.1 v-4" stroke="#888" stroke-width="1" fill="none"/>
<path d="M467.4,1312.75 h4" stroke="#555" stroke-width="1"/>
<path d="M837.8,1312.75 h-4" stroke="#888" stroke-width="1"/>
<path d="M467.4,1339.8 h4" stroke="#555" stroke-width="1"/>
<path d="M837.8,1339.8 h-4" stroke="#888" stroke-width="1"/>
<path d="M467.4,1366.85 h4" stroke="#555" stroke-width="1"/>
<path d="M837.8,1366.85 h-4" stroke="#888" stroke-width="1"/>
<path d="M467.4,1393.9 h4" stroke="#555" stroke-width="1"/>
<path d="M837.8,1393.9 h-4" stroke="#888" stroke-width="1"/>
<path d="M467.4,1420.95 h4" stroke="#555" stroke-width="1"/>
<path d="M837.8,1420.95 h-4" stroke="#888" stroke-width="1"/>
<path d="M467.4,1448 h4" stroke="#555" stroke-width="1"/>
<path d="M837.8,1448 h-4" stroke="#888" stroke-width="1"/>
<path d="M467.4,1475.05 h4" stroke="#555" stroke-width="1"/>
<path d="M837.8,1475.05 h-4" stroke="#888" stroke-width="1"/>
<line x1="467.4" y1="1285.7" x2="837.8" y2="1285.7" stroke="#f0f0f0" stroke-width="1.05"/>
<line x1="837.8" y1="1285.7" x2="837.8" y2="1502.1" stroke="#888" stroke-width="1.05"/>
<line x1="467.4" y1="1502.1" x2="837.8" y2="1502.1" stroke="#f0f0f0" stroke-width="1.05"/>
<line x1="467.4" y1="1285.7" x2="467.4" y2="1502.1" stroke="#999" stroke-width="1.05"/>
<text transform="translate(464.9,1288.5) scale(0.89,1)" font-size="6.5" text-anchor="end" fill="#111">81.48</text>
<text transform="translate(464.9,1315.55) scale(0.89,1)" font-size="6.5" text-anchor="end" fill="#111">81.46</text>
<text transform="translate(464.9,1342.6) scale(0.89,1)" font-size="6.5" text-anchor="end" fill="#111">81.44</text>
<text transform="translate(464.9,1369.65) scale(0.89,1)" font-size="6.5" text-anchor="end" fill="#111">81.42</text>
<text transform="translate(464.9,1396.7) scale(0.89,1)" font-size="6.5" text-anchor="end" fill="#111">81.4</text>
<text transform="translate(464.9,1423.75) scale(0.89,1)" font-size="6.5" text-anchor="end" fill="#111">81.38</text>
<text transform="translate(464.9,1450.8) scale(0.89,1)" font-size="6.5" text-anchor="end" fill="#111">81.36</text>
<text transform="translate(464.9,1477.85) scale(0.89,1)" font-size="6.5" text-anchor="end" fill="#111">81.34</text>
<text transform="translate(464.9,1504.9) scale(0.89,1)" font-size="6.5" text-anchor="end" fill="#111">81.32</text>
<text transform="translate(467.4,1511.5) scale(0.89,1)" font-size="6.5" text-anchor="middle" fill="#111">30</text>
<text transform="translate(513.7,1511.5) scale(0.89,1)" font-size="6.5" text-anchor="middle" fill="#111">32</text>
<text transform="translate(560,1511.5) scale(0.89,1)" font-size="6.5" text-anchor="middle" fill="#111">34</text>
<text transform="translate(606.3,1511.5) scale(0.89,1)" font-size="6.5" text-anchor="middle" fill="#111">36</text>
<text transform="translate(652.6,1511.5) scale(0.89,1)" font-size="6.5" text-anchor="middle" fill="#111">38</text>
<text transform="translate(698.9,1511.5) scale(0.89,1)" font-size="6.5" text-anchor="middle" fill="#111">40</text>
<text transform="translate(745.2,1511.5) scale(0.89,1)" font-size="6.5" text-anchor="middle" fill="#111">42</text>
<text transform="translate(791.5,1511.5) scale(0.89,1)" font-size="6.5" text-anchor="middle" fill="#111">44</text>
<text transform="translate(837.8,1511.5) scale(0.89,1)" font-size="6.5" text-anchor="middle" fill="#111">46</text>
<text x="652.9" y="1519.2" font-size="7" text-anchor="middle" fill="#111" stroke="#111" stroke-width="0.18">t (min)</text>
<text transform="translate(444.4,1394.5) rotate(-90)" font-size="8" font-weight="bold" text-anchor="middle" fill="#1a1a1a"><tspan font-weight="normal" font-style="italic">&#8706;</tspan> L<tspan font-size="5" dy="2.5">i</tspan><tspan dy="-2.5">(t)/</tspan><tspan font-weight="normal" font-style="italic">&#8706;</tspan> b</text>
<path d="M478.1,1501.42 L478.13,1500.73 L478.14,1500.03 L478.17,1499.21 L478.2,1498.29 L478.24,1497.26 L478.28,1496.13 L478.3,1495.53 L478.33,1494.91 L478.35,1494.26 L478.38,1493.59 L478.41,1492.89 L478.44,1492.18 L478.47,1491.44 L478.5,1490.68 L478.53,1489.91 L478.57,1489.11 L478.61,1488.29 L478.65,1487.45 L478.68,1486.59 L478.73,1485.71 L478.77,1484.82 L478.81,1483.91 L478.86,1482.97 L478.9,1482.02 L478.95,1481.06 L479,1480.07 L479.05,1479.07 L479.1,1478.06 L479.16,1477.02 L479.21,1475.98 L479.27,1474.91 L479.33,1473.83 L479.39,1472.74 L479.45,1471.63 L479.51,1470.51 L479.57,1469.37 L479.64,1468.22 L479.7,1467.05 L479.77,1465.88 L479.84,1464.69 L479.91,1463.49 L479.98,1462.27 L480.05,1461.04 L480.13,1459.81 L480.2,1458.56 L480.28,1457.3 L480.36,1456.03 L480.44,1454.74 L480.52,1453.45 L480.6,1452.15 L480.69,1450.84 L480.77,1449.52 L480.86,1448.19 L480.95,1446.86 L481.04,1445.51 L481.13,1444.16 L481.22,1442.8 L481.31,1441.43 L481.41,1440.05 L481.51,1438.67 L481.6,1437.28 L481.7,1435.89 L481.8,1434.49 L481.91,1433.08 L482.01,1431.67 L482.12,1430.25 L482.22,1428.83 L482.33,1427.41 L482.44,1425.98 L482.55,1424.55 L482.66,1423.11 L482.77,1421.67 L482.89,1420.23 L483.01,1418.79 L483.12,1417.34 L483.24,1415.89 L483.36,1414.44 L483.48,1412.99 L483.61,1411.54 L483.73,1410.09 L483.86,1408.63 L483.98,1407.18 L484.11,1405.73 L484.24,1404.28 L484.37,1402.82 L484.51,1401.37 L484.64,1399.93 L484.78,1398.48 L484.91,1397.04 L485.05,1395.59 L485.19,1394.15 L485.33,1392.72 L485.48,1391.28 L485.62,1389.86 L485.77,1388.43 L485.91,1387.01 L486.06,1385.59 L486.21,1384.18 L486.36,1382.77 L486.51,1381.37 L486.67,1379.97 L486.82,1378.58 L486.98,1377.2 L487.14,1375.82 L487.29,1374.45 L487.46,1373.09 L487.62,1371.73 L487.78,1370.38 L487.95,1369.04 L488.11,1367.7 L488.28,1366.38 L488.45,1365.06 L488.62,1363.75 L488.79,1362.45 L488.96,1361.16 L489.14,1359.88 L489.31,1358.61 L489.49,1357.35 L489.67,1356.1 L489.85,1354.86 L490.03,1353.64 L490.21,1352.42 L490.4,1351.21 L490.58,1350.02 L490.77,1348.83 L490.96,1347.66 L491.15,1346.5 L491.34,1345.36 L491.53,1344.22 L491.73,1343.1 L491.92,1341.99 L492.12,1340.9 L492.32,1339.81 L492.52,1338.75 L492.72,1337.69 L492.92,1336.65 L493.12,1335.62 L493.33,1334.61 L493.54,1333.61 L493.74,1332.63 L493.95,1331.66 L494.16,1330.71 L494.38,1329.77 L494.59,1328.85 L494.8,1327.94 L495.02,1327.05 L495.24,1326.17 L495.46,1325.31 L495.68,1324.47 L495.9,1323.64 L496.12,1322.83 L496.35,1322.03 L496.57,1321.25 L496.8,1320.49 L497.03,1319.75 L497.26,1319.02 L497.49,1318.31 L497.72,1317.61 L497.96,1316.94 L498.19,1316.28 L498.43,1315.63 L498.67,1315.01 L498.91,1314.4 L499.15,1313.81 L499.39,1313.24 L499.64,1312.68 L499.88,1312.15 L500.13,1311.63 L500.38,1311.12 L500.63,1310.64 L500.88,1310.18 L501.13,1309.73 L501.38,1309.3 L501.64,1308.89 L501.89,1308.5 L502.15,1308.12 L502.41,1307.76 L502.94,1307.11 L503.46,1306.52 L504,1306.01 L504.54,1305.57 L505.08,1305.2 L505.63,1304.9 L506.19,1304.68 L506.75,1304.53 L507.32,1304.45 L508.18,1304.47 L508.76,1304.56 L509.35,1304.73 L509.94,1304.97 L510.54,1305.27 L511.14,1305.64 L511.75,1306.08 L512.36,1306.59 L512.98,1307.16 L513.3,1307.47 L513.61,1307.79 L513.93,1308.13 L514.24,1308.49 L514.56,1308.86 L514.88,1309.25 L515.2,1309.65 L515.52,1310.07 L515.84,1310.5 L516.17,1310.95 L516.5,1311.41 L516.82,1311.89 L517.15,1312.38 L517.48,1312.89 L517.81,1313.41 L518.15,1313.94 L518.48,1314.49 L518.82,1315.05 L519.15,1315.62 L519.49,1316.21 L519.83,1316.81 L520.17,1317.42 L520.52,1318.05 L520.86,1318.69 L521.21,1319.34 L521.55,1320 L521.9,1320.67 L522.25,1321.36 L522.6,1322.06 L522.95,1322.77 L523.31,1323.49 L523.66,1324.22 L524.02,1324.97 L524.38,1325.72 L524.74,1326.48 L525.1,1327.26 L525.46,1328.04 L525.82,1328.84 L526.19,1329.64 L526.56,1330.46 L526.92,1331.28 L527.29,1332.11 L527.66,1332.95 L528.04,1333.81 L528.41,1334.66 L528.78,1335.53 L529.16,1336.41 L529.54,1337.29 L529.92,1338.18 L530.3,1339.08 L530.68,1339.99 L531.06,1340.9 L531.45,1341.82 L531.83,1342.75 L532.22,1343.68 L532.61,1344.62 L533,1345.57 L533.39,1346.52 L533.78,1347.48 L534.18,1348.45 L534.57,1349.42 L534.97,1350.39 L535.37,1351.37 L535.77,1352.36 L536.17,1353.35 L536.57,1354.34 L536.97,1355.34 L537.38,1356.34 L537.79,1357.35 L538.19,1358.36 L538.6,1359.37 L539.02,1360.39 L539.43,1361.41 L539.84,1362.43 L540.26,1363.46 L540.67,1364.48 L541.09,1365.51 L541.51,1366.55 L541.93,1367.58 L542.35,1368.62 L542.78,1369.66 L543.2,1370.7 L543.63,1371.74 L544.05,1372.78 L544.48,1373.83 L544.91,1374.87 L545.35,1375.91 L545.78,1376.96 L546.21,1378.01 L546.65,1379.05 L547.09,1380.1 L547.52,1381.14 L547.97,1382.19 L548.41,1383.24 L548.85,1384.28 L549.29,1385.32 L549.74,1386.37 L550.19,1387.41 L550.63,1388.45 L551.08,1389.49 L551.54,1390.53 L551.99,1391.56 L552.44,1392.6 L552.9,1393.63 L553.35,1394.66 L553.81,1395.69 L554.27,1396.71 L554.73,1397.74 L555.2,1398.76 L555.66,1399.77 L556.12,1400.79 L556.59,1401.8 L557.06,1402.81 L557.53,1403.82 L558,1404.82 L558.47,1405.82 L558.94,1406.81 L559.42,1407.81 L559.9,1408.8 L560.37,1409.78 L560.85,1410.76 L561.33,1411.74 L561.81,1412.71 L562.3,1413.68 L562.78,1414.64 L563.27,1415.6 L563.76,1416.55 L564.24,1417.5 L564.73,1418.45 L565.23,1419.39 L565.72,1420.33 L566.21,1421.26 L566.71,1422.18 L567.21,1423.1 L567.7,1424.02 L568.2,1424.93 L568.71,1425.83 L569.21,1426.73 L569.71,1427.63 L570.22,1428.51 L570.72,1429.4 L571.23,1430.27 L571.74,1431.15 L572.25,1432.01 L572.77,1432.87 L573.28,1433.73 L573.79,1434.57 L574.31,1435.42 L574.83,1436.25 L575.35,1437.08 L575.87,1437.91 L576.39,1438.72 L576.92,1439.54 L577.44,1440.34 L577.97,1441.14 L578.49,1441.93 L579.02,1442.72 L579.55,1443.5 L580.09,1444.28 L580.62,1445.04 L581.15,1445.81 L581.69,1446.56 L582.23,1447.31 L582.77,1448.05 L583.31,1448.79 L583.85,1449.52 L584.39,1450.24 L584.93,1450.96 L585.48,1451.66 L586.03,1452.37 L586.58,1453.06 L587.13,1453.75 L587.68,1454.44 L588.23,1455.12 L588.78,1455.79 L589.34,1456.45 L589.9,1457.11 L590.46,1457.76 L591.01,1458.4 L591.58,1459.04 L592.14,1459.67 L592.7,1460.3 L593.27,1460.91 L593.83,1461.53 L594.4,1462.13 L594.97,1462.73 L595.54,1463.32 L596.11,1463.91 L596.69,1464.49 L597.26,1465.06 L597.84,1465.63 L598.42,1466.19 L599,1466.74 L599.58,1467.29 L600.16,1467.83 L600.74,1468.37 L601.33,1468.9 L601.91,1469.42 L602.5,1469.93 L603.09,1470.44 L603.68,1470.95 L604.27,1471.45 L604.86,1471.94 L605.46,1472.42 L606.05,1472.9 L606.65,1473.38 L607.25,1473.85 L607.85,1474.31 L608.45,1474.77 L609.05,1475.22 L609.66,1475.66 L610.26,1476.1 L610.87,1476.53 L611.48,1476.96 L612.09,1477.38 L612.7,1477.8 L613.31,1478.21 L613.93,1478.61 L614.54,1479.01 L615.16,1479.41 L615.78,1479.8 L616.4,1480.18 L617.02,1480.56 L617.64,1480.93 L618.26,1481.3 L618.89,1481.66 L619.51,1482.02 L620.14,1482.37 L620.77,1482.71 L621.4,1483.06 L622.03,1483.39 L622.67,1483.73 L623.3,1484.05 L623.94,1484.37 L624.58,1484.69 L625.21,1485 L625.86,1485.31 L626.5,1485.62 L627.14,1485.91 L627.78,1486.21 L628.43,1486.5 L629.08,1486.78 L629.73,1487.06 L630.38,1487.34 L631.03,1487.61 L631.68,1487.88 L632.34,1488.14 L632.99,1488.4 L633.65,1488.66 L634.31,1488.91 L634.97,1489.15 L635.63,1489.4 L636.29,1489.63 L636.95,1489.87 L637.62,1490.1 L638.29,1490.33 L638.95,1490.55 L639.62,1490.77 L640.29,1490.99 L640.97,1491.2 L641.64,1491.41 L642.32,1491.61 L642.99,1491.81 L643.67,1492.01 L644.35,1492.21 L645.03,1492.4 L645.71,1492.59 L646.4,1492.77 L647.08,1492.95 L647.77,1493.13 L648.45,1493.3 L649.14,1493.48 L649.83,1493.64 L650.52,1493.81 L651.22,1493.97 L651.91,1494.13 L652.61,1494.29 L653.31,1494.44 L654,1494.59 L654.7,1494.74 L655.41,1494.89 L656.11,1495.03 L656.81,1495.17 L657.52,1495.31 L658.23,1495.44 L658.93,1495.57 L659.64,1495.7 L660.36,1495.83 L661.07,1495.96 L661.78,1496.08 L662.5,1496.2 L663.21,1496.32 L663.93,1496.43 L664.65,1496.55 L665.37,1496.66 L666.1,1496.76 L666.82,1496.87 L667.54,1496.98 L668.27,1497.08 L669,1497.18 L669.73,1497.28 L670.46,1497.37 L671.19,1497.47 L671.92,1497.56 L672.66,1497.65 L673.4,1497.74 L674.13,1497.83 L674.87,1497.91 L675.61,1497.99 L676.35,1498.08 L677.1,1498.16 L677.84,1498.23 L678.59,1498.31 L679.34,1498.38 L680.08,1498.46 L680.83,1498.53 L681.59,1498.6 L682.34,1498.67 L683.09,1498.74 L683.85,1498.8 L684.61,1498.87 L685.37,1498.93 L686.13,1498.99 L686.89,1499.05 L687.65,1499.11 L688.41,1499.17 L689.18,1499.22 L689.95,1499.28 L690.71,1499.33 L691.48,1499.38 L692.25,1499.44 L693.03,1499.49 L693.8,1499.53 L694.58,1499.58 L695.35,1499.63 L696.13,1499.68 L696.91,1499.72 L697.69,1499.76 L698.47,1499.81 L699.26,1499.85 L700.04,1499.89 L700.83,1499.93 L701.62,1499.97 L702.4,1500.01 L703.19,1500.04 L703.99,1500.08 L704.78,1500.11 L705.57,1500.15 L706.37,1500.18 L707.17,1500.22 L707.97,1500.25 L708.77,1500.28 L709.57,1500.31 L710.37,1500.34 L711.18,1500.37 L711.98,1500.4 L712.79,1500.42 L713.6,1500.45 L714.41,1500.48 L715.22,1500.5 L716.03,1500.53 L716.85,1500.55 L717.66,1500.58 L718.48,1500.6 L719.3,1500.62 L720.12,1500.65 L720.94,1500.67 L721.76,1500.69 L722.58,1500.71 L723.41,1500.73 L724.24,1500.75 L725.06,1500.77 L725.89,1500.79 L726.72,1500.8 L727.56,1500.82 L728.39,1500.84 L729.23,1500.85 L730.06,1500.87 L730.9,1500.89 L731.74,1500.9 L732.58,1500.92 L733.42,1500.93 L734.26,1500.95 L735.11,1500.96 L735.96,1500.97 L736.8,1500.99 L737.65,1501 L738.5,1501.01 L739.35,1501.02 L740.21,1501.03 L741.06,1501.05 L741.92,1501.06 L742.77,1501.07 L743.63,1501.08 L744.49,1501.09 L745.35,1501.1 L746.22,1501.11 L747.08,1501.12 L747.95,1501.13 L748.81,1501.14 L749.68,1501.14 L750.55,1501.15 L751.42,1501.16 L752.3,1501.17 L753.17,1501.18 L754.04,1501.18 L754.92,1501.19 L755.8,1501.2 L756.68,1501.21 L757.56,1501.21 L758.44,1501.22 L759.33,1501.22 L760.21,1501.23 L761.1,1501.24 L761.99,1501.24 L762.87,1501.25 L763.77,1501.25 L764.66,1501.26 L765.55,1501.26 L766.45,1501.27 L767.34,1501.27 L768.24,1501.28 L769.14,1501.28 L770.04,1501.29 L770.94,1501.29 L771.84,1501.3 L772.75,1501.3 L773.65,1501.3 L774.56,1501.31 L775.47,1501.31 L776.38,1501.31 L777.29,1501.32 L778.2,1501.32 L779.12,1501.33 L780.03,1501.33 L780.95,1501.33 L781.87,1501.33 L782.79,1501.34 L783.71,1501.34 L784.63,1501.34 L785.56,1501.35 L786.48,1501.35 L787.41,1501.35 L788.34,1501.35 L789.27,1501.36 L790.2,1501.36 L791.13,1501.36 L792.06,1501.36 L793,1501.36 L793.94,1501.37 L794.87,1501.37 L795.81,1501.37 L796.75,1501.37 L797.7,1501.37 L798.64,1501.37 L799.58,1501.38 L800.53,1501.38 L801.48,1501.38 L802.43,1501.38 L803.38,1501.38 L804.33,1501.38 L805.28,1501.39 L806.24,1501.39 L807.19,1501.39 L808.15,1501.39 L809.11,1501.39 L810.07,1501.39 L811.03,1501.39 L811.99,1501.39 L812.96,1501.39 L813.92,1501.4 L814.89,1501.4 L815.86,1501.4 L816.83,1501.4 L817.8,1501.4" stroke="#e01ed8" stroke-width="1.65" fill="none" stroke-linejoin="round"/>
<path d="M929.21,1284.6 v4 M929.21,1501.6 v-4" stroke="#555" stroke-width="1" fill="none"/>
<path d="M975.83,1284.6 v4 M975.83,1501.6 v-4" stroke="#555" stroke-width="1" fill="none"/>
<path d="M1022.44,1284.6 v4 M1022.44,1501.6 v-4" stroke="#555" stroke-width="1" fill="none"/>
<path d="M1069.05,1284.6 v4 M1069.05,1501.6 v-4" stroke="#555" stroke-width="1" fill="none"/>
<path d="M1115.66,1284.6 v4 M1115.66,1501.6 v-4" stroke="#555" stroke-width="1" fill="none"/>
<path d="M1162.28,1284.6 v4 M1162.28,1501.6 v-4" stroke="#555" stroke-width="1" fill="none"/>
<path d="M1208.89,1284.6 v4 M1208.89,1501.6 v-4" stroke="#555" stroke-width="1" fill="none"/>
<path d="M882.6,1311.72 h4" stroke="#666" stroke-width="1"/>
<path d="M1255.5,1311.72 h-4" stroke="#444" stroke-width="1"/>
<path d="M882.6,1338.85 h4" stroke="#666" stroke-width="1"/>
<path d="M1255.5,1338.85 h-4" stroke="#444" stroke-width="1"/>
<path d="M882.6,1365.97 h4" stroke="#666" stroke-width="1"/>
<path d="M1255.5,1365.97 h-4" stroke="#444" stroke-width="1"/>
<path d="M882.6,1393.1 h4" stroke="#666" stroke-width="1"/>
<path d="M1255.5,1393.1 h-4" stroke="#444" stroke-width="1"/>
<path d="M882.6,1420.22 h4" stroke="#666" stroke-width="1"/>
<path d="M1255.5,1420.22 h-4" stroke="#444" stroke-width="1"/>
<path d="M882.6,1447.35 h4" stroke="#666" stroke-width="1"/>
<path d="M1255.5,1447.35 h-4" stroke="#444" stroke-width="1"/>
<path d="M882.6,1474.47 h4" stroke="#666" stroke-width="1"/>
<path d="M1255.5,1474.47 h-4" stroke="#444" stroke-width="1"/>
<line x1="882.6" y1="1284.6" x2="1255.5" y2="1284.6" stroke="#999" stroke-width="1.05"/>
<line x1="1255.5" y1="1284.6" x2="1255.5" y2="1501.6" stroke="#333" stroke-width="1.05"/>
<line x1="882.6" y1="1501.6" x2="1255.5" y2="1501.6" stroke="#eee" stroke-width="1.05"/>
<line x1="882.6" y1="1284.6" x2="882.6" y2="1501.6" stroke="#999" stroke-width="1.05"/>
<text transform="translate(880.1,1287.4) scale(0.89,1)" font-size="6.5" text-anchor="end" fill="#111">106.5</text>
<text transform="translate(880.1,1314.52) scale(0.89,1)" font-size="6.5" text-anchor="end" fill="#111">106.45</text>
<text transform="translate(880.1,1341.65) scale(0.89,1)" font-size="6.5" text-anchor="end" fill="#111">106.4</text>
<text transform="translate(880.1,1368.77) scale(0.89,1)" font-size="6.5" text-anchor="end" fill="#111">106.35</text>
<text transform="translate(880.1,1395.9) scale(0.89,1)" font-size="6.5" text-anchor="end" fill="#111">106.3</text>
<text transform="translate(880.1,1423.02) scale(0.89,1)" font-size="6.5" text-anchor="end" fill="#111">106.25</text>
<text transform="translate(880.1,1450.15) scale(0.89,1)" font-size="6.5" text-anchor="end" fill="#111">106.2</text>
<text transform="translate(880.1,1477.27) scale(0.89,1)" font-size="6.5" text-anchor="end" fill="#111">106.15</text>
<text transform="translate(880.1,1504.4) scale(0.89,1)" font-size="6.5" text-anchor="end" fill="#111">106.1</text>
<text transform="translate(882.6,1511) scale(0.89,1)" font-size="6.5" text-anchor="middle" fill="#111">44</text>
<text transform="translate(929.21,1511) scale(0.89,1)" font-size="6.5" text-anchor="middle" fill="#111">46</text>
<text transform="translate(975.83,1511) scale(0.89,1)" font-size="6.5" text-anchor="middle" fill="#111">48</text>
<text transform="translate(1022.44,1511) scale(0.89,1)" font-size="6.5" text-anchor="middle" fill="#111">50</text>
<text transform="translate(1069.05,1511) scale(0.89,1)" font-size="6.5" text-anchor="middle" fill="#111">52</text>
<text transform="translate(1115.66,1511) scale(0.89,1)" font-size="6.5" text-anchor="middle" fill="#111">54</text>
<text transform="translate(1162.28,1511) scale(0.89,1)" font-size="6.5" text-anchor="middle" fill="#111">56</text>
<text transform="translate(1208.89,1511) scale(0.89,1)" font-size="6.5" text-anchor="middle" fill="#111">58</text>
<text transform="translate(1255.5,1511) scale(0.89,1)" font-size="6.5" text-anchor="middle" fill="#111">60</text>
<text x="1069" y="1520.4" font-size="7" text-anchor="middle" fill="#111" stroke="#111" stroke-width="0.18">t (min)</text>
<text transform="translate(856.2,1394) rotate(-90)" font-size="8" font-weight="bold" text-anchor="middle" fill="#1a1a1a"><tspan font-weight="normal" font-style="italic">&#8706;</tspan> L<tspan font-size="5" dy="2.5">i</tspan><tspan dy="-2.5">(t)/</tspan><tspan font-weight="normal" font-style="italic">&#8706;</tspan> b</text>
<path d="M917,1491.79 L917.07,1491.15 L917.14,1490.6 L917.22,1489.9 L917.31,1489.29 L917.4,1488.6 L917.51,1487.84 L917.58,1487.29 L917.67,1486.71 L917.75,1486.09 L917.85,1485.45 L917.95,1484.78 L918.05,1484.08 L918.16,1483.34 L918.28,1482.58 L918.4,1481.79 L918.53,1480.98 L918.66,1480.13 L918.8,1479.26 L918.95,1478.36 L919.1,1477.44 L919.25,1476.48 L919.41,1475.51 L919.58,1474.5 L919.75,1473.48 L919.84,1472.95 L919.93,1472.43 L920.02,1471.89 L920.11,1471.35 L920.2,1470.8 L920.3,1470.25 L920.39,1469.69 L920.49,1469.13 L920.59,1468.56 L920.69,1467.98 L920.79,1467.4 L920.9,1466.82 L921,1466.22 L921.11,1465.63 L921.21,1465.02 L921.32,1464.41 L921.43,1463.8 L921.55,1463.18 L921.66,1462.56 L921.77,1461.93 L921.89,1461.29 L922.01,1460.66 L922.12,1460.01 L922.24,1459.36 L922.36,1458.71 L922.49,1458.05 L922.61,1457.38 L922.74,1456.72 L922.86,1456.04 L922.99,1455.37 L923.12,1454.68 L923.25,1454 L923.38,1453.3 L923.52,1452.61 L923.65,1451.91 L923.79,1451.2 L923.93,1450.5 L924.07,1449.78 L924.21,1449.07 L924.35,1448.35 L924.49,1447.62 L924.64,1446.89 L924.78,1446.16 L924.93,1445.42 L925.08,1444.68 L925.23,1443.94 L925.38,1443.19 L925.54,1442.44 L925.69,1441.68 L925.85,1440.92 L926,1440.16 L926.16,1439.4 L926.32,1438.63 L926.48,1437.86 L926.65,1437.08 L926.81,1436.3 L926.98,1435.52 L927.14,1434.74 L927.31,1433.95 L927.48,1433.16 L927.65,1432.36 L927.82,1431.57 L928,1430.77 L928.17,1429.97 L928.35,1429.16 L928.53,1428.36 L928.71,1427.55 L928.89,1426.74 L929.07,1425.92 L929.25,1425.11 L929.44,1424.29 L929.63,1423.47 L929.81,1422.64 L930,1421.82 L930.19,1420.99 L930.39,1420.16 L930.58,1419.33 L930.77,1418.5 L930.97,1417.66 L931.17,1416.82 L931.37,1415.99 L931.57,1415.15 L931.77,1414.3 L931.97,1413.46 L932.17,1412.62 L932.38,1411.77 L932.59,1410.92 L932.8,1410.08 L933.01,1409.23 L933.22,1408.38 L933.43,1407.52 L933.64,1406.67 L933.86,1405.82 L934.08,1404.96 L934.29,1404.11 L934.51,1403.25 L934.74,1402.39 L934.96,1401.54 L935.18,1400.68 L935.41,1399.82 L935.63,1398.96 L935.86,1398.1 L936.09,1397.24 L936.32,1396.38 L936.55,1395.52 L936.79,1394.66 L937.02,1393.8 L937.26,1392.94 L937.5,1392.08 L937.73,1391.22 L937.98,1390.36 L938.22,1389.5 L938.46,1388.64 L938.7,1387.78 L938.95,1386.92 L939.2,1386.06 L939.45,1385.2 L939.7,1384.34 L939.95,1383.48 L940.2,1382.63 L940.46,1381.77 L940.71,1380.92 L940.97,1380.06 L941.23,1379.21 L941.49,1378.36 L941.75,1377.51 L942.01,1376.65 L942.27,1375.81 L942.54,1374.96 L942.81,1374.11 L943.07,1373.27 L943.34,1372.42 L943.61,1371.58 L943.89,1370.74 L944.16,1369.9 L944.44,1369.06 L944.71,1368.22 L944.99,1367.39 L945.27,1366.56 L945.55,1365.72 L945.83,1364.9 L946.11,1364.07 L946.4,1363.24 L946.69,1362.42 L946.97,1361.6 L947.26,1360.78 L947.55,1359.96 L947.84,1359.15 L948.14,1358.34 L948.43,1357.53 L948.73,1356.72 L949.02,1355.91 L949.32,1355.11 L949.62,1354.31 L949.92,1353.51 L950.23,1352.72 L950.53,1351.93 L950.84,1351.14 L951.14,1350.35 L951.45,1349.57 L951.76,1348.79 L952.07,1348.01 L952.39,1347.24 L952.7,1346.47 L953.01,1345.7 L953.33,1344.93 L953.65,1344.17 L953.97,1343.41 L954.29,1342.66 L954.61,1341.9 L954.93,1341.16 L955.26,1340.41 L955.59,1339.67 L955.91,1338.93 L956.24,1338.2 L956.57,1337.47 L956.9,1336.74 L957.24,1336.02 L957.57,1335.3 L957.91,1334.58 L958.25,1333.87 L958.58,1333.16 L958.93,1332.46 L959.27,1331.76 L959.61,1331.06 L959.95,1330.37 L960.3,1329.69 L960.65,1329 L961,1328.32 L961.35,1327.65 L961.7,1326.98 L962.05,1326.31 L962.4,1325.65 L962.76,1324.99 L963.12,1324.34 L963.47,1323.69 L963.83,1323.05 L964.19,1322.41 L964.56,1321.77 L964.92,1321.14 L965.28,1320.52 L965.65,1319.9 L966.02,1319.28 L966.39,1318.67 L966.76,1318.06 L967.13,1317.46 L967.5,1316.87 L967.88,1316.27 L968.26,1315.69 L968.63,1315.11 L969.01,1314.53 L969.39,1313.96 L969.77,1313.39 L970.16,1312.83 L970.54,1312.27 L970.93,1311.72 L971.32,1311.18 L971.7,1310.64 L972.09,1310.1 L972.49,1309.57 L972.88,1309.05 L973.27,1308.53 L973.67,1308.01 L974.06,1307.5 L974.46,1307 L974.86,1306.5 L975.26,1306.01 L975.67,1305.52 L976.07,1305.04 L976.48,1304.56 L976.88,1304.09 L977.29,1303.63 L977.7,1303.17 L978.11,1302.72 L978.52,1302.27 L978.94,1301.83 L979.35,1301.39 L979.77,1300.96 L980.19,1300.53 L980.6,1300.12 L981.03,1299.7 L981.45,1299.29 L981.87,1298.89 L982.3,1298.5 L982.72,1298.11 L983.15,1297.72 L983.58,1297.34 L984.01,1296.97 L984.44,1296.6 L984.87,1296.24 L985.31,1295.89 L985.74,1295.54 L986.18,1295.2 L986.62,1294.86 L987.06,1294.53 L987.5,1294.2 L987.94,1293.88 L988.39,1293.57 L988.83,1293.26 L989.28,1292.96 L989.73,1292.67 L990.18,1292.38 L990.63,1292.09 L991.08,1291.82 L991.53,1291.55 L991.99,1291.28 L992.45,1291.02 L992.9,1290.77 L993.36,1290.52 L993.82,1290.28 L994.29,1290.05 L994.75,1289.82 L995.21,1289.6 L995.68,1289.38 L996.15,1289.17 L996.62,1288.97 L997.09,1288.77 L997.56,1288.58 L998.03,1288.39 L998.51,1288.21 L998.98,1288.04 L999.46,1287.87 L999.94,1287.71 L1000.42,1287.55 L1000.9,1287.41 L1001.38,1287.26 L1001.87,1287.13 L1002.35,1286.99 L1002.84,1286.87 L1003.33,1286.75 L1003.82,1286.64 L1004.8,1286.43 L1005.79,1286.25 L1006.79,1286.09 L1007.79,1285.96 L1008.79,1285.85 L1009.8,1285.76 L1010.82,1285.7 L1011.84,1285.66 L1012.87,1285.65 L1013.91,1285.65 L1014.94,1285.69 L1015.99,1285.74 L1017.04,1285.82 L1018.1,1285.92 L1019.16,1286.05 L1019.69,1286.12 L1020.22,1286.2 L1020.76,1286.28 L1021.3,1286.37 L1021.83,1286.46 L1022.37,1286.56 L1022.92,1286.67 L1023.46,1286.78 L1024,1286.89 L1024.55,1287.01 L1025.09,1287.14 L1025.64,1287.27 L1026.19,1287.41 L1026.74,1287.56 L1027.29,1287.71 L1027.85,1287.86 L1028.4,1288.02 L1028.96,1288.19 L1029.52,1288.36 L1030.08,1288.53 L1030.64,1288.71 L1031.2,1288.9 L1031.76,1289.09 L1032.33,1289.29 L1032.89,1289.49 L1033.46,1289.7 L1034.03,1289.91 L1034.6,1290.13 L1035.17,1290.35 L1035.74,1290.58 L1036.32,1290.81 L1036.89,1291.05 L1037.47,1291.3 L1038.05,1291.54 L1038.63,1291.8 L1039.21,1292.05 L1039.79,1292.32 L1040.38,1292.58 L1040.96,1292.86 L1041.55,1293.13 L1042.14,1293.42 L1042.73,1293.7 L1043.32,1293.99 L1043.91,1294.29 L1044.5,1294.59 L1045.1,1294.9 L1045.69,1295.21 L1046.29,1295.52 L1046.89,1295.84 L1047.49,1296.16 L1048.09,1296.49 L1048.7,1296.82 L1049.3,1297.16 L1049.91,1297.5 L1050.52,1297.85 L1051.12,1298.19 L1051.74,1298.55 L1052.35,1298.91 L1052.96,1299.27 L1053.57,1299.64 L1054.19,1300.01 L1054.81,1300.38 L1055.43,1300.76 L1056.05,1301.14 L1056.67,1301.53 L1057.29,1301.92 L1057.92,1302.32 L1058.54,1302.71 L1059.17,1303.12 L1059.8,1303.52 L1060.43,1303.93 L1061.06,1304.35 L1061.69,1304.76 L1062.32,1305.19 L1062.96,1305.61 L1063.6,1306.04 L1064.23,1306.47 L1064.87,1306.91 L1065.51,1307.35 L1066.16,1307.79 L1066.8,1308.24 L1067.44,1308.68 L1068.09,1309.14 L1068.74,1309.59 L1069.39,1310.05 L1070.04,1310.52 L1070.69,1310.98 L1071.34,1311.45 L1072,1311.92 L1072.65,1312.4 L1073.31,1312.88 L1073.97,1313.36 L1074.63,1313.84 L1075.29,1314.33 L1075.96,1314.82 L1076.62,1315.31 L1077.29,1315.81 L1077.95,1316.31 L1078.62,1316.81 L1079.29,1317.32 L1079.96,1317.82 L1080.64,1318.33 L1081.31,1318.85 L1081.98,1319.36 L1082.66,1319.88 L1083.34,1320.4 L1084.02,1320.92 L1084.7,1321.45 L1085.38,1321.98 L1086.07,1322.51 L1086.75,1323.04 L1087.44,1323.57 L1088.13,1324.11 L1088.82,1324.65 L1089.51,1325.19 L1090.2,1325.73 L1090.89,1326.28 L1091.59,1326.83 L1092.28,1327.38 L1092.98,1327.93 L1093.68,1328.48 L1094.38,1329.04 L1095.08,1329.6 L1095.79,1330.16 L1096.49,1330.72 L1097.2,1331.28 L1097.9,1331.84 L1098.61,1332.41 L1099.32,1332.98 L1100.03,1333.55 L1100.75,1334.12 L1101.46,1334.69 L1102.18,1335.27 L1102.89,1335.85 L1103.61,1336.42 L1104.33,1337 L1105.05,1337.58 L1105.78,1338.17 L1106.5,1338.75 L1107.22,1339.33 L1107.95,1339.92 L1108.68,1340.51 L1109.41,1341.09 L1110.14,1341.68 L1110.87,1342.27 L1111.61,1342.87 L1112.34,1343.46 L1113.08,1344.05 L1113.82,1344.65 L1114.55,1345.24 L1115.3,1345.84 L1116.04,1346.44 L1116.78,1347.04 L1117.53,1347.63 L1118.27,1348.23 L1119.02,1348.83 L1119.77,1349.44 L1120.52,1350.04 L1121.27,1350.64 L1122.02,1351.24 L1122.78,1351.85 L1123.53,1352.45 L1124.29,1353.06 L1125.05,1353.66 L1125.81,1354.27 L1126.57,1354.88 L1127.33,1355.48 L1128.1,1356.09 L1128.86,1356.7 L1129.63,1357.31 L1130.4,1357.91 L1131.17,1358.52 L1131.94,1359.13 L1132.71,1359.74 L1133.49,1360.35 L1134.26,1360.96 L1135.04,1361.57 L1135.81,1362.18 L1136.59,1362.79 L1137.38,1363.39 L1138.16,1364 L1138.94,1364.61 L1139.73,1365.22 L1140.51,1365.83 L1141.3,1366.44 L1142.09,1367.05 L1142.88,1367.66 L1143.67,1368.27 L1144.46,1368.87 L1145.26,1369.48 L1146.06,1370.09 L1146.85,1370.7 L1147.65,1371.3 L1148.45,1371.91 L1149.25,1372.51 L1150.06,1373.12 L1150.86,1373.73 L1151.67,1374.33 L1152.47,1374.93 L1153.28,1375.54 L1154.09,1376.14 L1154.9,1376.74 L1155.72,1377.34 L1156.53,1377.95 L1157.34,1378.55 L1158.16,1379.15 L1158.98,1379.74 L1159.8,1380.34 L1160.62,1380.94 L1161.44,1381.54 L1162.27,1382.13 L1163.09,1382.73 L1163.92,1383.32 L1164.75,1383.92 L1165.58,1384.51 L1166.41,1385.1 L1167.24,1385.69 L1168.07,1386.28 L1168.91,1386.87 L1169.74,1387.46 L1170.58,1388.04 L1171.42,1388.63 L1172.26,1389.21 L1173.1,1389.8 L1173.94,1390.38 L1174.79,1390.96 L1175.63,1391.54 L1176.48,1392.12 L1177.33,1392.7 L1178.18,1393.27 L1179.03,1393.85 L1179.88,1394.42 L1180.74,1394.99 L1181.59,1395.57 L1182.45,1396.14 L1183.31,1396.7 L1184.17,1397.27 L1185.03,1397.84 L1185.89,1398.4 L1186.76,1398.97 L1187.62,1399.53 L1188.49,1400.09 L1189.36,1400.65 L1190.23,1401.2 L1191.1,1401.76 L1191.97,1402.32 L1192.84,1402.87 L1193.72,1403.42 L1194.6,1403.97 L1195.47,1404.52 L1196.35,1405.07 L1197.23,1405.61 L1198.11,1406.15 L1199,1406.7 L1199.88,1407.24 L1200.77,1407.78 L1201.66,1408.31 L1202.54,1408.85 L1203.44,1409.38 L1204.33,1409.91 L1205.22,1410.45 L1206.11,1410.97 L1207.01,1411.5 L1207.91,1412.03 L1208.81,1412.55 L1209.71,1413.07 L1210.61,1413.59 L1211.51,1414.11 L1212.41,1414.63 L1213.32,1415.14 L1214.23,1415.65 L1215.13,1416.17 L1216.04,1416.67 L1216.96,1417.18 L1217.87,1417.69 L1218.78,1418.19 L1219.7,1418.69 L1220.61,1419.19 L1221.53,1419.69 L1222.45,1420.19 L1223.37,1420.68 L1224.29,1421.17 L1225.22,1421.66 L1226.14,1422.15 L1227.07,1422.64 L1228,1423.12 L1228.92,1423.61 L1229.85,1424.09 L1230.79,1424.57 L1231.72,1425.04 L1232.65,1425.52 L1233.59,1425.99 L1234.53,1426.46 L1235.47,1426.93 L1236.41,1427.4 L1237.35,1427.86 L1238.29,1428.32 L1239.24,1428.78 L1240.18,1429.24 L1241.13,1429.7 L1242.08,1430.15 L1243.03,1430.61 L1243.98,1431.06 L1244.93,1431.51 L1245.88,1431.95 L1246.84,1432.4 L1247.8,1432.84 L1248.75,1433.28 L1249.71,1433.72 L1250.67,1434.15 L1251.64,1434.59 L1252.6,1435.02 L1253.57,1435.45 L1254.53,1435.88 L1255.5,1436.3" stroke="#e01414" stroke-width="1.65" fill="none" stroke-linejoin="round"/>
<path d="M635.15,1533.3 L634.25,1533.3 C627.9,1538.38 627.9,1551.32 634.25,1556.4 L635.15,1556.4 C630.17,1551.32 630.17,1538.38 635.15,1533.3 Z" fill="#111"/>
<path d="M652.65,1533.3 L653.55,1533.3 C659.77,1538.38 659.77,1551.32 653.55,1556.4 L652.65,1556.4 C657.5,1551.32 657.5,1538.38 652.65,1533.3 Z" fill="#111"/>
<text x="644.3" y="1550.6" font-size="25.7" font-weight="bold" text-anchor="middle" fill="#111" font-family='"Liberation Serif", serif'>d</text>
</svg>
</body></html>
